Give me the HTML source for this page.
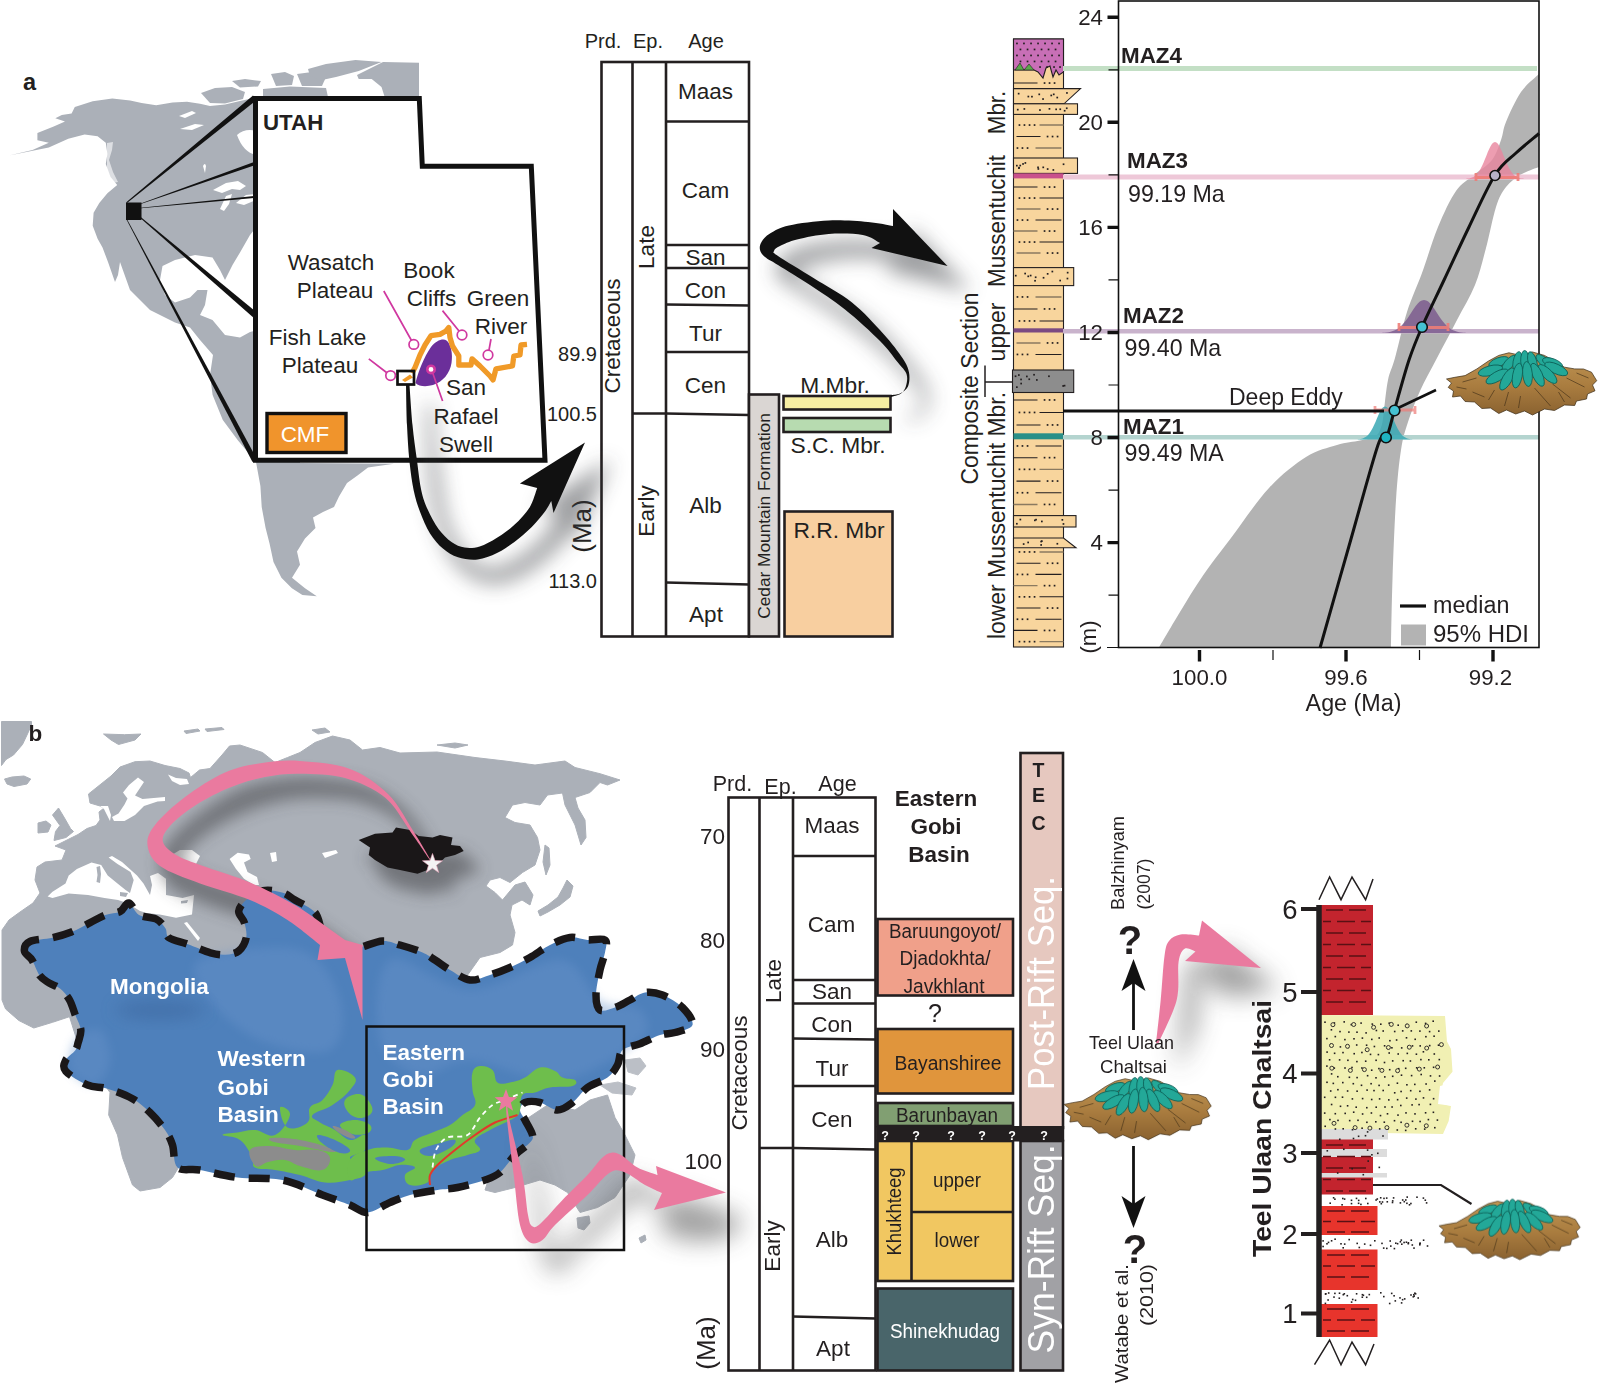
<!DOCTYPE html>
<html><head><meta charset="utf-8"><title>Figure</title>
<style>
html,body{margin:0;padding:0;background:#fff;}
svg{display:block}
text{font-family:"Liberation Sans",sans-serif;fill:#231f20}
.b{font-weight:bold}
.m{text-anchor:middle}
.e{text-anchor:end}
.w,.w text{fill:#fff}
</style></head><body>
<svg width="1600" height="1383" viewBox="0 0 1600 1383">
<defs>
<filter id="blur8" x="-50%" y="-50%" width="200%" height="200%"><feGaussianBlur stdDeviation="8"/></filter>
<filter id="blur10" x="-50%" y="-50%" width="200%" height="200%"><feGaussianBlur stdDeviation="10"/></filter>
<filter id="blur12" x="-50%" y="-50%" width="200%" height="200%"><feGaussianBlur stdDeviation="12"/></filter>
<filter id="blur5" x="-50%" y="-50%" width="200%" height="200%"><feGaussianBlur stdDeviation="5"/></filter>
</defs>
<rect x="0" y="0" width="1600" height="1383" fill="#ffffff"/>

<!-- panel a map -->
<g fill="#abb0b8">
<!-- North America west of the Utah box -->
<path d="M291.9 588.3L281.4 577.8L273.5 562L269.6 543.7L265.6 528L261.7 507L260.4 486L256 462L238 440.5L222.8 420L212.6 395L210 375L213 355L200 340L190 327.5L175 322.5L150 310L130 290L120 262L118 275L115 282L108 262L102.5 247.5L97.6 238.7L92.7 225.7L93.6 212.7L99.3 203L107.4 193.2L117.2 185L110.6 177L105.8 164L107.4 154L105.8 142.7L97.6 136.2L84.6 134.6L68.3 138.7L48.8 147.6L9 155.4L32.5 150L48.8 142.7L37.4 140.3L37.4 133L53.7 126.5L65 121.6L55.3 118.3L61.8 115L71.6 113.5L74.8 107L92.7 101.3L112.3 98.5L130.2 100.4L141.6 102.9L156.2 105.3L172.5 102.4L187 101.7L200 103.7L210 106L225 104.5L240 101L258 97L300 97L300 110L300 225L258 225L250 235L240 252.5L232.5 265L225 280L220 270L212.5 257.5L195 255L175 260L162.5 266L160 280L165 295L175 302.5L190 297.5L197.5 290L207.5 290L205 305L200 315L212.5 320L225 335L240 337.5L250 332L258 330L300 330L300 463L394 463.7L368 467.6L357.5 475.5L347 483L339 496.5L334 507L323 512L313 517.5L315.5 528L305 538.5L297 551.6L300 564.7L292 577.8L305 588.3L316.8 596.2L302.4 595Z"/>
<path d="M201 93L215 88L232 87L245 92L243 99L225 103.5L210 103Z"/>
<path d="M232 81L245 79L261 81L258 86.500L240 87.500Z"/>
<path d="M263 89L290 86.500L326 88L328 97L263 97Z"/>
<path d="M271 74L285 72L294 76L292 85L276 86Z"/>
<path d="M297 74L312 72L326 77L322 86L302 86Z"/>
<path d="M308 69L326 64L355.500 60L381.500 62L358.700 71L336 77L319.700 80.600L310 75.700Z"/>
<path d="M357 75L383 62L419 62.700L419 97L384.700 97L381.500 87L371.700 79L358.700 79Z"/>
</g>
<!-- lakes / bays -->
<g fill="#fff">
<path d="M237 135Q245 128 256 131V155Q243 152 237 135Z"/>
<path d="M213 190L226 183L238 181L246 186L240 190L232 189L222 193Z"/>
<path d="M220 209L226 196L232 194L229 204L224 211Z"/>
<path d="M236 203L246 195L256 194V200L244 205Z"/>
<path d="M179 116L192 111L196 113L185 118Z"/>
<path d="M180 129L195 124L204 125L192 130Z"/>
<path d="M203 166Q205 162 206 166L205 173Z"/>
<path d="M107 143L113 142L112 150L109 160L113 172L118 182L113 183L107 170Z" opacity="0.6"/>
</g>
<!-- fan lines -->
<g fill="#111">
<path d="M127 203L126.300 202.300L253 95.500L256 100.500Z"/>
<path d="M140 204.300L140 203.700L254 162V165.500Z"/>
<path d="M141 208.200L141 207.800L254 196V198Z"/>
<path d="M140 217.800L141 217.200L255 311V319Z"/>
<path d="M126.700 220L127.300 219.700L256.500 458.500L252.500 462Z"/>
<rect x="126" y="202.500" width="15.500" height="17.500"/>
</g>
<!-- Utah -->
<path d="M255.500 98.500H419.300L422.300 166.300H531.300L545 460.300H255.500Z" fill="#fff" stroke="#111" stroke-width="5" stroke-linejoin="miter"/>
<text x="23" y="90" font-size="23.5" class="b">a</text>
<text x="263" y="129.500" font-size="22.300" class="b">UTAH</text>
<rect x="267" y="413.500" width="79" height="39" fill="#f0942c" stroke="#111" stroke-width="3.400"/>
<text x="305" y="441.500" font-size="22.500" class="m w">CMF</text>
<g font-size="22.500" class="m">
<text x="331" y="270">Wasatch</text>
<text x="335" y="298">Plateau</text>
<text x="429" y="277.500">Book</text>
<text x="431.500" y="305.500">Cliffs</text>
<text x="498" y="305.500">Green</text>
<text x="501" y="333.500">River</text>
<text x="317.500" y="344.500">Fish Lake</text>
<text x="320" y="373">Plateau</text>
<text x="466" y="395">San</text>
<text x="466" y="424">Rafael</text>
<text x="466" y="451.500">Swell</text>
</g>
<!-- CMF outcrop -->
<path d="M415.500 383C418 372 424 357 431 347C436 340.500 443 338 446.500 340.500C451 344 453 354 451.500 363C450 373 443 382 433 385C426 387 419 386.500 415.500 383Z" fill="#6b2f9a"/>
<path d="M412 373L415 367.500L420 355L425 345L431 335.600L440 334.400L446 331L448.800 327.500L450 337.500L452.500 346L458.800 356L458.800 365L471 365L472 358.800L480 366L490 376L493 380L496 368.800L512.500 366L513.800 356L520 355L521 345L527 344.400" fill="none" stroke="#f09a28" stroke-width="5.300" stroke-linejoin="round"/>
<path d="M402 380L410 374.500L413 377.500L405 382Z" fill="#f09a28"/>
<rect x="397.500" y="371" width="16.500" height="13.500" fill="none" stroke="#111" stroke-width="2.700"/>
<g fill="none" stroke="#d038a0" stroke-width="1.700">
<path d="M383.800 291L411.500 340.500M442.500 310.600L459 331M491 339L489 350M368.800 358.800L386.500 372.500M432 371L442.600 401"/>
<circle cx="413.800" cy="344.400" r="4.800"/>
<circle cx="462" cy="335" r="4.800"/>
<circle cx="488" cy="355" r="4.800"/>
<circle cx="390.600" cy="375.600" r="4.800"/>
<circle cx="431" cy="369.400" r="3.700" fill="#fff" stroke-width="2.600"/>
</g>

<!-- panel a time scale -->
<g fill="none" stroke="#231f20" stroke-width="2.6">
<rect x="601.5" y="62" width="147.5" height="574.5" fill="#fff"/>
<path d="M632.5 62V636.5M666 62V636.5"/>
<path d="M666 121.5H749M666 245H749M666 268H749M666 304.5L749 305.5M666 352H749M632.5 413.5H666L749 415M666 582.5L749 584.5"/>
<rect x="749" y="394.5" width="30" height="242" fill="#dad6d3"/>
<rect x="783.5" y="396" width="107" height="13.5" fill="#f6eea3"/>
<rect x="783.5" y="418" width="107" height="14" fill="#b7dbb0"/>
<rect x="784.5" y="511.5" width="108" height="125" fill="#f8cfa0"/>
</g>
<g font-size="20">
<text x="603" y="48" class="m">Prd.</text>
<text x="648" y="48" class="m">Ep.</text>
<text x="706" y="48" class="m">Age</text>
</g>
<g font-size="22.5" class="m">
<text x="705.5" y="98.500">Maas</text>
<text x="705.5" y="197.5">Cam</text>
<text x="705.5" y="264.5">San</text>
<text x="705.5" y="297.5">Con</text>
<text x="705.5" y="340.5">Tur</text>
<text x="705.5" y="392.5">Cen</text>
<text x="705.5" y="513">Alb</text>
<text x="706" y="622">Apt</text>
<text transform="translate(619.5,336) rotate(-90)">Cretaceous</text>
<text transform="translate(653.5,247) rotate(-90)">Late</text>
<text transform="translate(653.5,511) rotate(-90)">Early</text>
<text transform="translate(590.5,526) rotate(-90)" font-size="26">(Ma)</text>
<text x="835" y="393" font-size="22.8">M.Mbr.</text>
<text x="838" y="453" font-size="22.8">S.C. Mbr.</text>
<text x="839" y="538" font-size="22.8">R.R. Mbr</text>
<text transform="translate(769.5,516) rotate(-90)" font-size="17.3">Cedar Mountain Formation</text>
</g>
<g font-size="20" class="e">
<text x="597" y="360.5">89.9</text>
<text x="597" y="420.5">100.5</text>
<text x="597" y="587.5">113.0</text>
</g>

<!-- panel a column -->
<g stroke="#231f20" stroke-width="1.1">
<rect x="1013.5" y="39" width="50" height="608" fill="#f8d59d"/>
<path d="M1013.5 39H1063.5V72L1059 75L1056 70L1053 77L1050 66L1046 68L1043 78L1038 72L1034 70H1013.5Z" fill="#c86fb6"/>
<path d="M1015 70L1020 63L1024 70L1029 64L1034 70Z" fill="#5aa84a" stroke-width="0.6"/>
<path d="M1013.5 88.6H1080.5L1064 103.8H1013.5Z" fill="#f8d59d"/>
<rect x="1013.5" y="103.8" width="64" height="10.6" fill="#f8d59d"/>
<rect x="1013.5" y="158" width="64" height="15.4" fill="#f8d59d"/>
<rect x="1013.5" y="173.4" width="50" height="5" fill="#c9518c" stroke="none"/>
<rect x="1013.5" y="267.6" width="60.2" height="18" fill="#f8d59d"/>
<rect x="1013.5" y="328.3" width="50" height="4.2" fill="#7b4a82" stroke="none"/>
<rect x="1012.5" y="370" width="61.2" height="22.5" fill="#8d8d8d"/>
<rect x="1013.5" y="433.3" width="50" height="6" fill="#2a8f88" stroke="none"/>
<rect x="1013.5" y="515.6" width="62.5" height="11.4" fill="#f8d59d"/>
<path d="M1013.5 538H1063.5L1076 547.7H1013.5Z" fill="#f8d59d"/>
</g>
<path d="M1013.5 83.0H1037.5M1016.5 136.5H1040.5M1013.5 187.0H1037.5M1039.5 198.0H1063.5M1035.5 220.0H1061.5M1039.5 242.0H1063.5M1013.5 309.0H1037.5M1039.5 321.0H1063.5M1035.5 354.5H1061.5M1013.5 400.0H1037.5M1039.5 412.5H1063.5M1016.5 425.0H1040.5M1035.5 446.0H1061.5M1013.5 457.7H1037.5M1016.5 481.1H1040.5M1035.5 492.8H1061.5M1016.5 563.2H1040.5M1035.5 574.4H1061.5M1039.5 596.8H1063.5M1016.5 608.0H1040.5M1035.5 619.2H1061.5M1013.5 630.4H1037.5" stroke="#231f20" stroke-width="1.1" fill="none"/>
<path d="M1039.5 125.0H1063.5M1035.5 148.0H1061.5M1016.5 209.0H1040.5M1013.5 231.0H1037.5M1016.5 253.0H1040.5M1035.5 297.0H1061.5M1016.5 343.0H1040.5M1039.5 469.4H1063.5M1013.5 504.5H1037.5M1039.5 552.0H1063.5M1013.5 585.6H1037.5M1039.5 641.6H1063.5" stroke="#8a7a60" stroke-width="1.3" fill="none"/>
<g fill="#231f20"><rect x="1043.7" y="82.2" width="1.700" height="1.700"/><rect x="1048.7" y="82.2" width="1.700" height="1.700"/><rect x="1053.7" y="82.2" width="1.700" height="1.700"/><rect x="1018.6" y="124.2" width="1.700" height="1.700"/><rect x="1023.6" y="124.2" width="1.700" height="1.700"/><rect x="1028.7" y="124.2" width="1.700" height="1.700"/><rect x="1033.7" y="124.2" width="1.700" height="1.700"/><rect x="1046.7" y="135.7" width="1.700" height="1.700"/><rect x="1051.7" y="135.7" width="1.700" height="1.700"/><rect x="1056.7" y="135.7" width="1.700" height="1.700"/><rect x="1016.6" y="147.2" width="1.700" height="1.700"/><rect x="1021.6" y="147.2" width="1.700" height="1.700"/><rect x="1026.7" y="147.2" width="1.700" height="1.700"/><rect x="1043.7" y="186.2" width="1.700" height="1.700"/><rect x="1048.7" y="186.2" width="1.700" height="1.700"/><rect x="1053.7" y="186.2" width="1.700" height="1.700"/><rect x="1018.6" y="197.2" width="1.700" height="1.700"/><rect x="1023.6" y="197.2" width="1.700" height="1.700"/><rect x="1028.7" y="197.2" width="1.700" height="1.700"/><rect x="1033.7" y="197.2" width="1.700" height="1.700"/><rect x="1046.7" y="208.2" width="1.700" height="1.700"/><rect x="1051.7" y="208.2" width="1.700" height="1.700"/><rect x="1056.7" y="208.2" width="1.700" height="1.700"/><rect x="1016.6" y="219.2" width="1.700" height="1.700"/><rect x="1021.6" y="219.2" width="1.700" height="1.700"/><rect x="1026.7" y="219.2" width="1.700" height="1.700"/><rect x="1043.7" y="230.2" width="1.700" height="1.700"/><rect x="1048.7" y="230.2" width="1.700" height="1.700"/><rect x="1053.7" y="230.2" width="1.700" height="1.700"/><rect x="1018.6" y="241.2" width="1.700" height="1.700"/><rect x="1023.6" y="241.2" width="1.700" height="1.700"/><rect x="1028.7" y="241.2" width="1.700" height="1.700"/><rect x="1033.7" y="241.2" width="1.700" height="1.700"/><rect x="1046.7" y="252.2" width="1.700" height="1.700"/><rect x="1051.7" y="252.2" width="1.700" height="1.700"/><rect x="1056.7" y="252.2" width="1.700" height="1.700"/><rect x="1016.6" y="296.1" width="1.700" height="1.700"/><rect x="1021.6" y="296.1" width="1.700" height="1.700"/><rect x="1026.7" y="296.1" width="1.700" height="1.700"/><rect x="1043.7" y="308.1" width="1.700" height="1.700"/><rect x="1048.7" y="308.1" width="1.700" height="1.700"/><rect x="1053.7" y="308.1" width="1.700" height="1.700"/><rect x="1018.6" y="320.1" width="1.700" height="1.700"/><rect x="1023.6" y="320.1" width="1.700" height="1.700"/><rect x="1028.7" y="320.1" width="1.700" height="1.700"/><rect x="1033.7" y="320.1" width="1.700" height="1.700"/><rect x="1046.7" y="342.1" width="1.700" height="1.700"/><rect x="1051.7" y="342.1" width="1.700" height="1.700"/><rect x="1056.7" y="342.1" width="1.700" height="1.700"/><rect x="1016.6" y="353.6" width="1.700" height="1.700"/><rect x="1021.6" y="353.6" width="1.700" height="1.700"/><rect x="1026.7" y="353.6" width="1.700" height="1.700"/><rect x="1043.7" y="399.1" width="1.700" height="1.700"/><rect x="1048.7" y="399.1" width="1.700" height="1.700"/><rect x="1053.7" y="399.1" width="1.700" height="1.700"/><rect x="1018.6" y="411.6" width="1.700" height="1.700"/><rect x="1023.6" y="411.6" width="1.700" height="1.700"/><rect x="1028.7" y="411.6" width="1.700" height="1.700"/><rect x="1033.7" y="411.6" width="1.700" height="1.700"/><rect x="1046.7" y="424.1" width="1.700" height="1.700"/><rect x="1051.7" y="424.1" width="1.700" height="1.700"/><rect x="1056.7" y="424.1" width="1.700" height="1.700"/><rect x="1016.6" y="445.1" width="1.700" height="1.700"/><rect x="1021.6" y="445.1" width="1.700" height="1.700"/><rect x="1026.7" y="445.1" width="1.700" height="1.700"/><rect x="1043.7" y="456.8" width="1.700" height="1.700"/><rect x="1048.7" y="456.8" width="1.700" height="1.700"/><rect x="1053.7" y="456.8" width="1.700" height="1.700"/><rect x="1018.6" y="468.5" width="1.700" height="1.700"/><rect x="1023.6" y="468.5" width="1.700" height="1.700"/><rect x="1028.7" y="468.5" width="1.700" height="1.700"/><rect x="1033.7" y="468.5" width="1.700" height="1.700"/><rect x="1046.7" y="480.2" width="1.700" height="1.700"/><rect x="1051.7" y="480.2" width="1.700" height="1.700"/><rect x="1056.7" y="480.2" width="1.700" height="1.700"/><rect x="1016.6" y="491.9" width="1.700" height="1.700"/><rect x="1021.6" y="491.9" width="1.700" height="1.700"/><rect x="1026.7" y="491.9" width="1.700" height="1.700"/><rect x="1043.7" y="503.6" width="1.700" height="1.700"/><rect x="1048.7" y="503.6" width="1.700" height="1.700"/><rect x="1053.7" y="503.6" width="1.700" height="1.700"/><rect x="1018.6" y="551.1" width="1.700" height="1.700"/><rect x="1023.6" y="551.1" width="1.700" height="1.700"/><rect x="1028.7" y="551.1" width="1.700" height="1.700"/><rect x="1033.7" y="551.1" width="1.700" height="1.700"/><rect x="1046.7" y="562.4" width="1.700" height="1.700"/><rect x="1051.7" y="562.4" width="1.700" height="1.700"/><rect x="1056.7" y="562.4" width="1.700" height="1.700"/><rect x="1016.6" y="573.6" width="1.700" height="1.700"/><rect x="1021.6" y="573.6" width="1.700" height="1.700"/><rect x="1026.7" y="573.6" width="1.700" height="1.700"/><rect x="1043.7" y="584.8" width="1.700" height="1.700"/><rect x="1048.7" y="584.8" width="1.700" height="1.700"/><rect x="1053.7" y="584.8" width="1.700" height="1.700"/><rect x="1018.6" y="596.0" width="1.700" height="1.700"/><rect x="1023.6" y="596.0" width="1.700" height="1.700"/><rect x="1028.7" y="596.0" width="1.700" height="1.700"/><rect x="1033.7" y="596.0" width="1.700" height="1.700"/><rect x="1046.7" y="607.2" width="1.700" height="1.700"/><rect x="1051.7" y="607.2" width="1.700" height="1.700"/><rect x="1056.7" y="607.2" width="1.700" height="1.700"/><rect x="1016.6" y="618.4" width="1.700" height="1.700"/><rect x="1021.6" y="618.4" width="1.700" height="1.700"/><rect x="1026.7" y="618.4" width="1.700" height="1.700"/><rect x="1043.7" y="629.6" width="1.700" height="1.700"/><rect x="1048.7" y="629.6" width="1.700" height="1.700"/><rect x="1053.7" y="629.6" width="1.700" height="1.700"/><rect x="1018.6" y="640.8" width="1.700" height="1.700"/><rect x="1023.6" y="640.8" width="1.700" height="1.700"/><rect x="1028.7" y="640.8" width="1.700" height="1.700"/><rect x="1033.7" y="640.8" width="1.700" height="1.700"/><rect x="1016.1" y="42.6" width="1.700" height="1.700"/><rect x="1023.1" y="42.6" width="1.700" height="1.700"/><rect x="1030.2" y="42.6" width="1.700" height="1.700"/><rect x="1037.2" y="42.6" width="1.700" height="1.700"/><rect x="1044.2" y="42.6" width="1.700" height="1.700"/><rect x="1051.2" y="42.6" width="1.700" height="1.700"/><rect x="1058.2" y="42.6" width="1.700" height="1.700"/><rect x="1019.6" y="48.6" width="1.700" height="1.700"/><rect x="1026.7" y="48.6" width="1.700" height="1.700"/><rect x="1033.7" y="48.6" width="1.700" height="1.700"/><rect x="1040.7" y="48.6" width="1.700" height="1.700"/><rect x="1047.7" y="48.6" width="1.700" height="1.700"/><rect x="1054.7" y="48.6" width="1.700" height="1.700"/><rect x="1016.1" y="54.6" width="1.700" height="1.700"/><rect x="1023.1" y="54.6" width="1.700" height="1.700"/><rect x="1030.2" y="54.6" width="1.700" height="1.700"/><rect x="1037.2" y="54.6" width="1.700" height="1.700"/><rect x="1044.2" y="54.6" width="1.700" height="1.700"/><rect x="1051.2" y="54.6" width="1.700" height="1.700"/><rect x="1058.2" y="54.6" width="1.700" height="1.700"/><rect x="1019.6" y="60.6" width="1.700" height="1.700"/><rect x="1026.7" y="60.6" width="1.700" height="1.700"/><rect x="1033.7" y="60.6" width="1.700" height="1.700"/><rect x="1040.7" y="60.6" width="1.700" height="1.700"/><rect x="1047.7" y="60.6" width="1.700" height="1.700"/><rect x="1054.7" y="60.6" width="1.700" height="1.700"/><rect x="1039.2" y="66.2" width="1.700" height="1.700"/><rect x="1046.2" y="66.2" width="1.700" height="1.700"/><rect x="1053.2" y="66.2" width="1.700" height="1.700"/><rect x="1059.2" y="66.2" width="1.700" height="1.700"/><rect x="1017.8" y="92.8" width="1.700" height="1.700"/><rect x="1050.4" y="94.6" width="1.700" height="1.700"/><rect x="1031.1" y="95.8" width="1.700" height="1.700"/><rect x="1038.4" y="93.5" width="1.700" height="1.700"/><rect x="1056.4" y="96.7" width="1.700" height="1.700"/><rect x="1027.5" y="95.7" width="1.700" height="1.700"/><rect x="1042.2" y="98.2" width="1.700" height="1.700"/><rect x="1052.9" y="93.5" width="1.700" height="1.700"/><rect x="1066.1" y="92.1" width="1.700" height="1.700"/><rect x="1039.1" y="109.2" width="1.700" height="1.700"/><rect x="1023.5" y="108.1" width="1.700" height="1.700"/><rect x="1016.9" y="108.8" width="1.700" height="1.700"/><rect x="1059.4" y="108.4" width="1.700" height="1.700"/><rect x="1065.9" y="107.4" width="1.700" height="1.700"/><rect x="1055.3" y="108.5" width="1.700" height="1.700"/><rect x="1048.6" y="108.0" width="1.700" height="1.700"/><rect x="1063.8" y="109.9" width="1.700" height="1.700"/><rect x="1042.4" y="166.5" width="1.700" height="1.700"/><rect x="1018.2" y="166.8" width="1.700" height="1.700"/><rect x="1052.5" y="169.1" width="1.700" height="1.700"/><rect x="1062.7" y="163.4" width="1.700" height="1.700"/><rect x="1037.2" y="166.5" width="1.700" height="1.700"/><rect x="1016.0" y="164.8" width="1.700" height="1.700"/><rect x="1024.5" y="162.1" width="1.700" height="1.700"/><rect x="1018.1" y="167.3" width="1.700" height="1.700"/><rect x="1022.2" y="163.1" width="1.700" height="1.700"/><rect x="1037.5" y="168.1" width="1.700" height="1.700"/><rect x="1019.4" y="164.7" width="1.700" height="1.700"/><rect x="1046.8" y="168.2" width="1.700" height="1.700"/><rect x="1059.3" y="279.7" width="1.700" height="1.700"/><rect x="1029.8" y="274.7" width="1.700" height="1.700"/><rect x="1034.2" y="279.9" width="1.700" height="1.700"/><rect x="1066.8" y="271.8" width="1.700" height="1.700"/><rect x="1024.3" y="272.7" width="1.700" height="1.700"/><rect x="1027.4" y="275.5" width="1.700" height="1.700"/><rect x="1046.8" y="273.0" width="1.700" height="1.700"/><rect x="1014.9" y="274.8" width="1.700" height="1.700"/><rect x="1034.8" y="276.4" width="1.700" height="1.700"/><rect x="1066.6" y="277.7" width="1.700" height="1.700"/><rect x="1042.7" y="276.9" width="1.700" height="1.700"/><rect x="1051.5" y="270.7" width="1.700" height="1.700"/><rect x="1063.7" y="384.8" width="1.700" height="1.700"/><rect x="1062.3" y="385.1" width="1.700" height="1.700"/><rect x="1036.0" y="379.1" width="1.700" height="1.700"/><rect x="1020.3" y="382.7" width="1.700" height="1.700"/><rect x="1018.0" y="374.2" width="1.700" height="1.700"/><rect x="1026.0" y="375.6" width="1.700" height="1.700"/><rect x="1033.2" y="373.9" width="1.700" height="1.700"/><rect x="1014.7" y="375.4" width="1.700" height="1.700"/><rect x="1020.2" y="378.6" width="1.700" height="1.700"/><rect x="1016.0" y="386.3" width="1.700" height="1.700"/><rect x="1048.1" y="375.4" width="1.700" height="1.700"/><rect x="1028.4" y="378.4" width="1.700" height="1.700"/><rect x="1035.2" y="518.8" width="1.700" height="1.700"/><rect x="1062.6" y="523.1" width="1.700" height="1.700"/><rect x="1041.0" y="520.6" width="1.700" height="1.700"/><rect x="1019.5" y="518.7" width="1.700" height="1.700"/><rect x="1034.0" y="519.5" width="1.700" height="1.700"/><rect x="1061.5" y="519.0" width="1.700" height="1.700"/><rect x="1016.0" y="522.9" width="1.700" height="1.700"/><rect x="1040.3" y="540.7" width="1.700" height="1.700"/><rect x="1041.0" y="540.3" width="1.700" height="1.700"/><rect x="1040.3" y="544.1" width="1.700" height="1.700"/><rect x="1056.5" y="542.9" width="1.700" height="1.700"/><rect x="1027.3" y="541.6" width="1.700" height="1.700"/><rect x="1022.8" y="543.2" width="1.700" height="1.700"/></g>
<path d="M985 365.5V397M985 382H1012" stroke="#231f20" stroke-width="1.5" fill="none"/>
<g font-size="23" class="m">
<text transform="translate(977.5,388.500) rotate(-90)" textLength="192" lengthAdjust="spacingAndGlyphs">Composite Section</text>
<text transform="translate(1005,515.500) rotate(-90)" textLength="247" lengthAdjust="spacingAndGlyphs">lower Mussentuchit Mbr.</text>
<text transform="translate(1005,332) rotate(-90)">upper</text>
<text transform="translate(1005,221) rotate(-90)" textLength="132" lengthAdjust="spacingAndGlyphs">Mussentuchit</text>
<text transform="translate(1005,112.500) rotate(-90)" textLength="43.500" lengthAdjust="spacingAndGlyphs">Mbr.</text>
</g>
<!-- panel a chart -->
<g>
<path d="M1159.0 647.5C1162.5 641.6 1172.7 624.0 1180.0 612.0C1187.3 600.0 1194.5 587.8 1203.0 575.5C1211.5 563.2 1220.0 552.6 1231.0 538.0C1242.0 523.4 1256.5 501.5 1269.0 488.0C1281.5 474.5 1294.7 464.2 1306.0 457.0C1317.3 449.8 1328.0 447.8 1337.0 445.0C1346.0 442.2 1353.5 442.0 1360.0 440.5C1366.5 439.0 1372.3 438.8 1376.0 436.0C1379.7 433.2 1380.7 428.3 1382.0 424.0C1383.3 419.7 1383.0 417.3 1384.0 410.0C1385.0 402.7 1386.2 388.7 1388.0 380.0C1389.8 371.3 1391.8 369.3 1395.0 358.0C1398.2 346.7 1402.5 326.2 1407.0 312.0C1411.5 297.8 1416.8 287.2 1422.0 273.0C1427.2 258.8 1432.3 240.7 1438.0 227.0C1443.7 213.3 1450.0 199.7 1456.0 191.0C1462.0 182.3 1468.0 180.2 1474.0 175.0C1480.0 169.8 1487.5 165.8 1492.0 160.0C1496.5 154.2 1498.7 146.3 1501.0 140.0C1503.3 133.7 1502.7 130.0 1506.0 122.0C1509.3 114.0 1515.5 100.0 1521.0 92.0C1526.5 84.0 1536.0 77.0 1539.0 74.0 L1539.0 167.0C1536.0 168.2 1526.5 171.2 1521.0 174.5C1515.5 177.8 1510.2 181.6 1506.0 187.0C1501.8 192.4 1499.3 196.8 1496.0 207.0C1492.7 217.2 1489.5 235.0 1486.0 248.0C1482.5 261.0 1479.8 273.0 1475.0 285.0C1470.2 297.0 1463.3 307.8 1457.0 320.0C1450.7 332.2 1443.2 346.2 1437.0 358.0C1430.8 369.8 1424.8 380.3 1420.0 391.0C1415.2 401.7 1411.2 412.2 1408.0 422.0C1404.8 431.8 1403.0 437.0 1401.0 450.0C1399.0 463.0 1397.4 478.5 1396.0 500.0C1394.6 521.5 1393.3 554.4 1392.5 579.0C1391.7 603.6 1391.2 636.1 1391.0 647.5 Z" fill="#b3b3b3"/>
<rect x="1063" y="66" width="474" height="5" fill="#c3dfc5"/>
<rect x="1063" y="174.5" width="476" height="5" fill="#eec8d8"/>
<rect x="1063" y="329" width="476" height="4.500" fill="#c9b3cc"/>
<rect x="1063" y="435" width="476" height="4.500" fill="#b4d4cf"/>
<path d="M1466.2 179.0L1466.2 178.8L1467.6 178.6L1469.1 178.4L1470.5 178.1L1472.0 177.6L1473.4 176.9L1474.8 176.0L1476.3 174.7L1477.7 173.1L1479.2 171.1L1480.6 168.7L1482.0 165.9L1483.5 162.7L1484.9 159.2L1486.4 155.7L1487.8 152.1L1489.2 148.9L1490.7 146.0L1492.1 143.8L1493.6 142.5L1495.0 142.0L1496.4 142.5L1497.9 143.8L1499.3 146.0L1500.8 148.9L1502.2 152.1L1503.6 155.7L1505.1 159.2L1506.5 162.7L1508.0 165.9L1509.4 168.7L1510.8 171.1L1512.3 173.1L1513.7 174.7L1515.2 176.0L1516.6 176.9L1518.0 177.6L1519.5 178.1L1520.9 178.4L1522.4 178.6L1523.8 178.8L1523.8 179.0 Z" fill="#e8849e" fill-opacity="0.8"/>
<path d="M1382.4 333.0L1382.4 332.8L1384.5 332.7L1386.6 332.5L1388.6 332.2L1390.7 331.8L1392.8 331.1L1394.9 330.3L1397.0 329.2L1399.0 327.8L1401.1 326.0L1403.2 323.8L1405.3 321.3L1407.4 318.5L1409.4 315.4L1411.5 312.2L1413.6 309.0L1415.7 306.1L1417.8 303.6L1419.8 301.6L1421.9 300.4L1424.0 300.0L1426.1 300.4L1428.2 301.6L1430.2 303.6L1432.3 306.1L1434.4 309.0L1436.5 312.2L1438.6 315.4L1440.6 318.5L1442.7 321.3L1444.8 323.8L1446.9 326.0L1449.0 327.8L1451.0 329.2L1453.1 330.3L1455.2 331.1L1457.3 331.8L1459.4 332.2L1461.4 332.5L1463.5 332.7L1465.6 332.8L1465.6 333.0 Z" fill="#7d5c8e" fill-opacity="0.85"/>
<path d="M1357.8 439.5L1357.8 439.3L1359.2 439.2L1360.5 439.0L1361.9 438.7L1363.2 438.3L1364.6 437.6L1366.0 436.8L1367.3 435.7L1368.7 434.3L1370.0 432.5L1371.4 430.3L1372.8 427.8L1374.1 425.0L1375.5 421.9L1376.8 418.7L1378.2 415.5L1379.6 412.6L1380.9 410.1L1382.3 408.1L1383.6 406.9L1385.0 406.5L1386.4 406.9L1387.7 408.1L1389.1 410.1L1390.4 412.6L1391.8 415.5L1393.2 418.7L1394.5 421.9L1395.9 425.0L1397.2 427.8L1398.6 430.3L1400.0 432.5L1401.3 434.3L1402.7 435.7L1404.0 436.8L1405.4 437.6L1406.8 438.3L1408.1 438.7L1409.5 439.0L1410.8 439.2L1412.2 439.3L1412.2 439.5 Z" fill="#38a8b4" fill-opacity="0.85"/>
<g stroke="#ee7d78" stroke-width="2.8" fill="none" opacity="0.9">
<path d="M1476 177.5H1518M1476 173v8M1518 173v8"/>
<path d="M1399 327.500H1448M1399 323v8M1448 323v8"/>
<path d="M1375 410H1415M1375 406v8M1415 406v8" opacity="0.8"/>
</g>
<path d="M1063 411H1384" stroke="#111" stroke-width="3.2" fill="none"/>
<path d="M1398 408L1436 390" stroke="#111" stroke-width="2.6" fill="none"/>
<path d="M1320.0 648.0C1324.8 631.0 1339.3 579.8 1349.0 546.0C1358.7 512.2 1371.8 463.1 1378.0 445.0C1384.2 426.9 1383.8 443.3 1386.5 437.5C1389.2 431.7 1390.8 422.9 1394.5 410.0C1398.2 397.1 1404.4 373.8 1409.0 360.0C1413.6 346.2 1416.0 340.7 1422.0 327.0C1428.0 313.3 1437.2 294.7 1445.0 278.0C1452.8 261.3 1460.7 244.2 1469.0 227.0C1477.3 209.8 1487.2 187.3 1495.0 175.0C1502.8 162.7 1508.7 159.9 1516.0 153.0C1523.3 146.1 1535.2 136.8 1539.0 133.5" stroke="#111" stroke-width="3" fill="none"/>
<g stroke="#111" stroke-width="1.6">
<circle cx="1495" cy="175.500" r="5" fill="#b9b1c9"/>
<circle cx="1422" cy="327" r="5.300" fill="#45c1d2"/>
<circle cx="1394.500" cy="410.500" r="5.300" fill="#45c1d2"/>
<circle cx="1386" cy="437.500" r="5.300" fill="#1fb3c1"/>
</g>
<rect x="1118.500" y="1" width="420.500" height="646.500" fill="none" stroke="#111" stroke-width="1.6"/>
<path d="M1107.5 542.6H1118.500M1107.5 437.5H1118.500M1107.5 332.5H1118.500M1107.5 227.4H1118.500M1107.5 122.3H1118.500M1107.5 17.2H1118.500" stroke="#111" stroke-width="3.400"/>
<path d="M1108.5 595.2H1118.500M1108.5 490.1H1118.500M1108.5 385.0H1118.500M1108.5 279.9H1118.500M1108.5 174.8H1118.500M1108.5 69.8H1118.500M1107 647.5H1118.500" stroke="#111" stroke-width="1.200"/>
<path d="M1199.500 650V661.500M1346 650V661.500M1493 650V661.500" stroke="#111" stroke-width="3.400"/>
<path d="M1273 650V660M1419.500 650V660" stroke="#111" stroke-width="1.200"/>
<g font-size="22.300" class="e">
<text x="1103" y="550.4">4</text>
<text x="1103" y="445.3">8</text>
<text x="1103" y="340.3">12</text>
<text x="1103" y="235.2">16</text>
<text x="1103" y="130.1">20</text>
<text x="1103" y="25.0">24</text>
</g>
<g font-size="22.300" class="m">
<text x="1199.500" y="685">100.0</text><text x="1346" y="685">99.6</text><text x="1490.500" y="685">99.2</text>
<text x="1353.500" y="711" font-size="23.300">Age (Ma)</text>
<text transform="translate(1095.500,637) rotate(-90)" font-size="22">(m)</text>
</g>
<g font-size="22.400" class="b">
<text x="1121" y="62.500">MAZ4</text><text x="1127" y="168">MAZ3</text><text x="1123" y="323">MAZ2</text><text x="1123" y="433.500">MAZ1</text>
</g>
<g font-size="23.200">
<text x="1128" y="201.500">99.19 Ma</text><text x="1124.500" y="355.500">99.40 Ma</text><text x="1124.500" y="461">99.49 MA</text>
<text x="1229" y="404.500" font-size="23">Deep Eddy</text>
<text x="1433" y="612.500" font-size="23.300">median</text><text x="1433" y="642" font-size="24">95% HDI</text>
</g>
<path d="M1400 606H1426" stroke="#111" stroke-width="3.200"/>
<rect x="1401" y="624.500" width="25" height="21" fill="#b3b3b3"/>
</g>
<!-- panel b map -->
<g fill="#abb0b8" stroke="#abb0b8" stroke-width="1" stroke-linejoin="round">
<path d="M1.5 721.5L31.5 721.5L31.5 725.0L27.0 735.0L22.5 744.5L13.5 755.0L6.0 759.5L1.5 765.5Z"/>
<path d="M4.5 779.0L12.0 777.0L24.0 776.0L30.7 779.0L27.0 784.0L14.0 786.5L7.0 784.0Z"/>
<path d="M58.5 808.0L64.5 818.0L70.5 828.5L73.5 831.5L66.0 837.5L54.0 840.5L55.5 831.5L60.0 825.5L52.5 815.0Z"/>
<path d="M38.0 823.0L46.0 821.0L51.0 825.0L48.0 832.0L38.0 833.0Z"/>
<path d="M103.5 734.0L124.5 734.7L141.0 734.0L135.0 740.0L118.5 744.5L111.0 740.0Z"/>
<path d="M437.0 745.0L455.0 743.0L468.0 745.0L455.0 748.0Z"/>
<path d="M312.0 730.0L325.0 728.0L330.0 732.0L318.0 734.0Z"/>
<path d="M184.0 731.0L198.0 729.0L200.0 731.0L186.0 733.5Z"/>
<path d="M205.0 729.0L222.0 727.5L224.0 729.5L207.0 731.5Z"/>
<path d="M2.0 1000.0L2.0 930.0L9.0 920.0L20.0 912.0L33.0 903.0L40.0 893.0L35.0 880.0L37.0 867.0L45.0 862.0L62.0 860.0L66.0 850.0L55.0 846.0L63.0 842.0L72.0 837.5L78.0 834.5L87.0 828.5L96.0 825.5L100.0 820.0L99.0 812.0L104.0 808.0L100.0 806.0L90.0 803.0L88.5 794.0L96.0 788.0L111.0 776.0L120.0 767.0L135.0 761.7L150.0 761.0L165.0 765.5L180.0 768.5L189.0 773.0L190.5 777.5L199.5 770.0L210.0 768.5L222.0 755.0L229.5 746.0L240.0 745.0L262.5 752.5L275.0 762.5L287.5 757.5L300.0 752.5L315.0 742.5L332.5 736.0L350.0 740.0L362.5 750.0L380.0 747.5L400.0 753.0L437.0 752.0L475.0 757.5L505.0 761.0L535.0 765.0L565.0 761.0L575.0 767.5L600.0 773.7L620.0 780.0L607.5 785.0L600.0 782.5L590.0 792.5L575.0 797.5L578.0 808.0L585.0 820.0L586.0 837.5L581.0 845.0L575.0 825.0L565.0 805.0L562.5 793.0L547.5 795.0L540.0 805.0L525.0 802.5L512.5 805.0L505.0 817.5L515.0 822.5L530.0 825.0L537.5 837.5L540.0 850.0L535.0 865.0L522.5 872.5L510.0 882.5L500.0 877.5L490.0 880.0L486.0 886.0L495.0 892.5L502.5 900.0L515.0 885.0L525.0 882.0L533.0 895.0L530.0 905.0L522.0 900.0L512.0 905.0L510.0 915.0L515.0 932.5L512.5 945.0L500.0 952.5L480.0 957.5L450.0 1000.0L300.0 1000.0L180.0 1165.0L172.5 1177.5L160.0 1187.5L140.0 1191.0L132.5 1185.0L122.5 1157.5L117.5 1135.0L108.7 1115.0L110.0 1092.5L80.0 1050.0L69.5 1016.7L52.6 1022.3L33.8 1028.0L18.8 1020.5L5.6 1009.0Z"/>
<path d="M567.0 880.0L573.0 886.0L570.0 897.0L560.0 905.0L548.0 912.0L540.0 916.0L538.0 911.0L548.0 905.0L558.0 897.0L563.0 888.0Z"/>
<path d="M545.0 845.0L549.0 848.0L550.0 865.0L546.0 875.0L543.0 862.0Z"/>
<path d="M625.0 1060.0L640.0 1058.0L646.0 1066.0L638.0 1075.0L628.0 1072.0Z" opacity="0.8"/>
<path d="M600.0 1085.0L618.0 1082.0L636.0 1088.0L632.0 1095.0L612.0 1093.0Z" opacity="0.8"/>
<path d="M525.0 1120.0L547.5 1105.0L575.0 1110.0L590.0 1100.0L607.5 1095.0L615.0 1117.5L625.0 1135.0L635.0 1155.0L630.0 1175.0L615.0 1197.5L597.5 1207.5L580.0 1212.5L567.5 1192.5L555.0 1185.0L540.0 1180.0L515.0 1187.5L495.0 1192.5L485.0 1190.0L490.0 1175.0L505.0 1160.0Z"/>
<path d="M577.0 1218.0L589.0 1216.0L590.0 1223.0L584.0 1230.0L578.0 1228.0Z"/>
<path d="M639.0 1238.0L645.0 1235.0L646.0 1240.0L641.0 1243.0Z"/>
</g>
<g fill="#fff">
<path d="M47.6 896.6L52.5 891.7L65.5 883.6L68.7 875.5L76.9 869.0L91.5 862.5L101.2 865.0L107.7 875.5L117.5 883.6L125.6 890.0L130.0 893.0L133.7 880.0L130.5 872.0L117.5 864.0L108.6 857.6L112.0 856.0L122.0 862.0L137.0 875.5L143.5 883.6L150.0 895.0L152.0 885.0L150.0 876.0L158.0 873.0L166.0 878.7L166.0 895.0L182.5 898.0L194.0 895.0L192.0 914.5L176.0 917.7L159.7 914.5L146.7 913.0L140.0 911.0L127.0 903.0L118.0 900.0L104.5 898.0L88.0 895.0L68.7 893.4L52.5 898.0Z"/>
<path d="M170.0 856.0L180.0 850.0L192.0 850.0L200.0 856.0L196.0 864.0L182.0 866.0L172.0 863.0Z"/>
<path d="M229.6 859.0L237.7 852.7L249.0 854.4L250.7 859.0L244.0 862.5L247.5 872.0L257.0 877.0L259.0 885.0L254.0 885.0L244.0 878.7L236.0 869.0Z"/>
<path d="M270.0 853.0L276.0 852.0L277.0 861.0L272.0 862.0Z"/>
<path d="M322.0 853.0L336.0 850.0L338.0 853.0L325.0 858.0Z"/>
<path d="M138.0 777.5L144.0 782.0L138.0 791.0L135.0 795.5L142.5 799.0L165.0 797.0L165.0 801.0L157.5 801.5L144.0 806.0L135.0 815.0L124.5 821.0L114.0 821.0L112.0 817.0L118.5 813.5L124.5 804.5L127.5 798.5L123.0 792.5L129.0 785.0Z"/>
<path d="M168.0 774.5L176.0 778.0L187.0 779.0L189.0 784.0L180.0 785.0L172.0 781.0Z"/>
<path d="M100.0 806.0L108.0 806.0L111.0 815.0L110.0 821.0L107.0 815.0L104.0 809.0Z"/>
<path d="M184.0 923.0L187.0 922.0L200.0 938.0L198.0 941.0Z"/>
</g>
<path d="M96.5 867.0L100.0 866.0L101.0 874.0L100.0 883.0L96.5 882.0L97.5 875.0Z" fill="#abb0b8"/>
<path d="M120.0 892.0L128.0 893.0L126.0 897.0L120.0 896.0Z" fill="#abb0b8"/>
<path d="M181.0 901.0L188.0 900.0L187.0 903.0L181.0 903.5Z" fill="#abb0b8"/>
<g filter="url(#blur8)" opacity="0.5" fill="#3a3a3e">
<path d="M432.5 863.0C429.1 857.3 419.4 840.5 412.0 829.0C404.6 817.5 398.3 804.0 388.0 794.0C377.7 784.0 364.7 774.5 350.0 769.0C335.3 763.5 314.7 762.0 300.0 761.0C285.3 760.0 274.5 761.1 262.0 763.0C249.5 764.9 237.8 766.8 225.0 772.5C212.2 778.2 196.7 788.2 185.0 797.0C173.3 805.8 161.2 817.0 155.0 825.0C148.8 833.0 146.7 838.2 147.5 845.0C148.3 851.8 151.2 859.6 160.0 866.0C168.8 872.4 185.0 877.8 200.0 883.5C215.0 889.2 235.4 893.9 250.0 900.0C264.6 906.1 275.8 912.5 287.5 920.0C299.2 927.5 314.6 940.8 320.0 945.0L317.5 960L345 958L362.5 1020L362.5 945L345 940L327.5 927.5C322.1 923.8 307.9 912.5 295.0 905.0C282.1 897.5 264.6 888.8 250.0 882.5C235.4 876.2 219.5 871.9 207.5 867.5C195.5 863.1 185.4 860.2 178.0 856.0C170.6 851.8 164.3 847.0 163.0 842.0C161.7 837.0 164.5 832.2 170.0 826.0C175.5 819.8 186.0 811.4 196.0 805.0C206.0 798.6 218.5 792.2 230.0 787.5C241.5 782.8 253.3 779.3 265.0 777.0C276.7 774.7 286.7 773.5 300.0 773.7C313.3 773.9 330.8 774.0 345.0 778.0C359.2 782.0 374.2 788.7 385.0 797.5C395.8 806.3 402.1 819.9 410.0 831.0C417.9 842.1 428.8 858.5 432.5 864.0Z" transform="translate(16,20)" stroke="#3a3a3e" stroke-width="8"/>
<path d="M358.7 840.0L375.0 833.7L392.5 832.5L396.0 827.5L410.0 830.0L418.7 836.0L432.5 837.5L440.0 835.0L452.5 837.5L451.0 845.0L460.0 846.0L463.7 851.0L455.0 855.0L445.0 857.5L437.5 865.0L427.5 870.0L417.5 873.7L400.0 870.0L387.5 867.5L375.0 860.0L368.7 855.0L370.0 847.5Z" transform="translate(12,18)" stroke="#3a3a3e" stroke-width="6" opacity="1"/>
</g>
<path d="M358.7 840.0L375.0 833.7L392.5 832.5L396.0 827.5L410.0 830.0L418.7 836.0L432.5 837.5L440.0 835.0L452.5 837.5L451.0 845.0L460.0 846.0L463.7 851.0L455.0 855.0L445.0 857.5L437.5 865.0L427.5 870.0L417.5 873.7L400.0 870.0L387.5 867.5L375.0 860.0L368.7 855.0L370.0 847.5Z" fill="#1a1718"/>
<path d="M24.4 951.0C24.1 947.9 25.3 943.7 30.0 941.5C34.7 939.3 45.7 939.3 52.6 937.7C59.5 936.1 65.1 934.5 71.4 932.0C77.7 929.5 84.6 925.5 90.2 922.7C95.8 919.9 100.3 916.9 105.3 915.0C110.3 913.1 116.4 913.4 120.3 911.4C124.2 909.4 125.7 902.4 128.8 903.0C131.9 903.6 134.5 912.3 139.0 915.0C143.5 917.7 151.6 916.8 156.0 919.0C160.4 921.2 163.2 925.2 165.4 928.3C167.6 931.4 165.2 935.0 169.0 937.7C172.8 940.4 181.1 941.8 188.0 944.3C194.9 946.8 204.2 951.1 210.5 952.8C216.8 954.5 220.9 955.0 225.6 954.7C230.3 954.4 235.3 953.8 238.7 951.0C242.1 948.2 245.2 942.4 246.2 937.7C247.1 933.0 245.7 927.1 244.4 922.7C243.2 918.3 238.4 915.2 238.7 911.4C239.0 907.6 242.1 903.5 246.2 900.0C250.2 896.5 257.0 891.9 263.0 890.7C269.0 889.5 276.7 891.1 282.0 892.6C287.3 894.1 289.5 896.7 295.0 900.0C300.5 903.3 310.4 907.1 315.0 912.5C319.6 917.9 319.5 927.2 322.5 932.5C325.5 937.8 329.2 941.1 333.0 944.0C336.8 946.9 340.5 949.4 345.0 950.0C349.5 950.6 353.8 949.0 360.0 947.5C366.2 946.0 375.8 941.4 382.5 941.0C389.2 940.6 393.3 943.1 400.0 945.0C406.7 946.9 416.7 950.0 422.5 952.5C428.3 955.0 430.4 957.1 435.0 960.0C439.6 962.9 444.2 966.7 450.0 970.0C455.8 973.3 463.3 979.2 470.0 980.0C476.7 980.8 483.3 977.1 490.0 975.0C496.7 972.9 503.3 970.4 510.0 967.5C516.7 964.6 523.3 961.2 530.0 957.5C536.7 953.8 543.3 948.3 550.0 945.0C556.7 941.7 563.8 938.3 570.0 937.5C576.2 936.7 581.7 939.6 587.5 940.0C593.3 940.4 602.1 937.9 605.0 940.0C607.9 942.1 605.8 947.5 605.0 952.5C604.2 957.5 601.5 962.9 600.0 970.0C598.5 977.1 596.0 988.3 596.0 995.0C596.0 1001.7 596.8 1007.9 600.0 1010.0C603.2 1012.1 610.0 1009.2 615.0 1007.5C620.0 1005.8 625.0 1002.5 630.0 1000.0C635.0 997.5 639.6 993.3 645.0 992.5C650.4 991.7 656.2 992.5 662.5 995.0C668.8 997.5 677.5 1002.5 682.5 1007.5C687.5 1012.5 693.8 1020.8 692.5 1025.0C691.2 1029.2 680.4 1030.8 675.0 1032.5C669.6 1034.2 665.8 1033.1 660.0 1035.0C654.2 1036.9 646.2 1041.2 640.0 1043.7C633.8 1046.2 626.2 1046.5 622.5 1050.0C618.8 1053.5 620.0 1060.4 617.5 1065.0C615.0 1069.6 612.5 1073.8 607.5 1077.5C602.5 1081.2 593.3 1083.3 587.5 1087.5C581.7 1091.7 577.5 1098.8 572.5 1102.5C567.5 1106.2 562.9 1110.0 557.5 1110.0C552.1 1110.0 545.4 1103.8 540.0 1102.5C534.6 1101.2 528.3 1101.2 525.0 1102.5C521.7 1103.8 520.0 1107.1 520.0 1110.0C520.0 1112.9 522.9 1115.8 525.0 1120.0C527.1 1124.2 531.7 1131.2 532.5 1135.0C533.3 1138.8 532.9 1139.2 530.0 1142.5C527.1 1145.8 520.0 1150.0 515.0 1155.0C510.0 1160.0 505.0 1168.3 500.0 1172.5C495.0 1176.7 492.1 1177.5 485.0 1180.0C477.9 1182.5 465.4 1185.8 457.5 1187.5C449.6 1189.2 445.4 1188.8 437.5 1190.0C429.6 1191.2 417.9 1192.9 410.0 1195.0C402.1 1197.1 397.1 1199.6 390.0 1202.5C382.9 1205.4 374.2 1212.1 367.5 1212.5C360.8 1212.9 357.5 1207.9 350.0 1205.0C342.5 1202.1 333.8 1199.2 322.5 1195.0C311.2 1190.8 296.7 1182.9 282.5 1180.0C268.3 1177.1 251.2 1179.2 237.5 1177.5C223.8 1175.8 210.0 1171.7 200.0 1170.0C190.0 1168.3 182.1 1171.7 177.5 1167.5C172.9 1163.3 174.6 1151.2 172.5 1145.0C170.4 1138.8 168.8 1135.4 165.0 1130.0C161.2 1124.6 155.4 1117.7 150.0 1112.5C144.6 1107.3 139.6 1102.7 132.5 1098.7C125.4 1094.7 115.0 1091.0 107.5 1088.7C100.0 1086.4 94.5 1087.9 87.5 1085.0C80.5 1082.1 69.4 1075.4 65.8 1071.2C62.2 1067.0 64.2 1063.5 65.8 1060.0C67.4 1056.5 73.2 1053.3 75.2 1050.5C77.2 1047.7 77.1 1046.5 78.0 1043.0C78.9 1039.5 81.3 1034.5 80.8 1029.8C80.3 1025.1 77.1 1019.8 75.2 1014.8C73.3 1009.8 72.0 1004.2 69.5 999.8C67.0 995.4 63.4 991.3 60.0 988.5C56.6 985.7 52.3 985.1 48.9 982.9C45.5 980.7 42.3 979.1 39.5 975.3C36.7 971.5 34.5 964.0 32.0 960.0C29.5 956.0 24.7 954.1 24.4 951.0Z" fill="#4e80bb"/>
<g fill="#6a94cb" opacity="0.4" filter="url(#blur5)">
<path d="M390.0 960.0C405.0 951.7 441.7 990.0 470.0 990.0C498.3 990.0 538.3 958.3 560.0 960.0C581.7 961.7 586.7 991.7 600.0 1000.0C613.3 1008.3 633.3 1003.3 640.0 1010.0C646.7 1016.7 653.3 1028.3 640.0 1040.0C626.7 1051.7 588.3 1076.7 560.0 1080.0C531.7 1083.3 493.3 1060.8 470.0 1060.0C446.7 1059.2 435.0 1078.3 420.0 1075.0C405.0 1071.7 385.0 1059.2 380.0 1040.0C375.0 1020.8 375.0 968.3 390.0 960.0Z"/>
<path d="M200.0 960.0C215.0 951.7 276.7 943.3 300.0 950.0C323.3 956.7 335.0 983.3 340.0 1000.0C345.0 1016.7 343.3 1043.3 330.0 1050.0C316.7 1056.7 280.0 1048.3 260.0 1040.0C240.0 1031.7 220.0 1013.3 210.0 1000.0C200.0 986.7 185.0 968.3 200.0 960.0Z"/>
<path d="M75.0 1040.0C80.0 1033.3 94.2 1026.7 100.0 1030.0C105.8 1033.3 110.8 1050.8 110.0 1060.0C109.2 1069.2 101.7 1083.3 95.0 1085.0C88.3 1086.7 73.3 1077.5 70.0 1070.0C66.7 1062.5 70.0 1046.7 75.0 1040.0Z"/>
</g>
<ellipse cx="160" cy="1010" rx="45" ry="10" fill="#3a659c" opacity="0.5" filter="url(#blur8)"/>
<g fill="#6ebe4c">
<path d="M222.5 1135.0C223.0 1136.5 234.0 1135.5 240.0 1140.0C246.0 1144.5 249.5 1152.0 252.5 1157.5C255.5 1163.0 250.5 1165.0 255.0 1167.5C259.5 1170.0 266.0 1168.5 275.0 1170.0C284.0 1171.5 290.0 1172.5 300.0 1175.0C310.0 1177.5 315.0 1181.5 325.0 1182.5C335.0 1183.5 342.0 1181.5 350.0 1180.0C358.0 1178.5 362.5 1178.0 365.0 1175.0C367.5 1172.0 365.5 1168.5 362.5 1165.0C359.5 1161.5 349.5 1160.5 350.0 1157.5C350.5 1154.5 362.0 1154.5 365.0 1150.0C368.0 1145.5 368.0 1137.0 365.0 1135.0C362.0 1133.0 356.0 1141.0 350.0 1140.0C344.0 1139.0 341.0 1133.5 335.0 1130.0C329.0 1126.5 324.5 1125.5 320.0 1122.5C315.5 1119.5 310.0 1118.5 312.5 1115.0C315.0 1111.5 325.0 1110.0 332.5 1105.0C340.0 1100.0 345.5 1095.5 350.0 1090.0C354.5 1084.5 357.5 1081.5 355.0 1077.5C352.5 1073.5 342.0 1068.5 337.5 1070.0C333.0 1071.5 335.5 1079.0 332.5 1085.0C329.5 1091.0 327.0 1095.5 322.5 1100.0C318.0 1104.5 313.0 1103.0 310.0 1107.5C307.0 1112.0 312.0 1118.5 307.5 1122.5C303.0 1126.5 293.0 1130.5 287.5 1127.5C282.0 1124.5 279.5 1110.0 280.0 1107.5C280.5 1105.0 291.0 1109.5 290.0 1115.0C289.0 1120.5 282.0 1132.0 275.0 1135.0C268.0 1138.0 262.5 1130.5 255.0 1130.0C247.5 1129.5 244.0 1131.5 237.5 1132.5C231.0 1133.5 222.0 1133.5 222.5 1135.0Z"/>
<path d="M345.0 1100.0C347.0 1096.4 353.4 1094.0 358.0 1094.0C362.6 1094.0 365.2 1096.4 368.0 1100.0C370.8 1103.6 373.6 1108.4 372.0 1112.0C370.4 1115.6 364.8 1118.0 360.0 1118.0C355.2 1118.0 351.0 1115.6 348.0 1112.0C345.0 1108.4 343.0 1103.6 345.0 1100.0Z"/>
<path d="M340.0 1125.0C340.6 1122.2 349.0 1120.0 355.0 1120.0C361.0 1120.0 367.4 1122.4 370.0 1125.0C372.6 1127.6 371.6 1131.2 368.0 1133.0C364.4 1134.8 357.6 1135.6 352.0 1134.0C346.4 1132.4 339.4 1127.8 340.0 1125.0Z"/>
<path d="M472.5 1072.5C474.0 1067.7 476.0 1066.5 480.0 1066.0C484.0 1065.5 489.0 1066.7 492.5 1070.0C496.0 1073.3 494.0 1080.0 497.5 1082.5C501.0 1085.0 504.5 1083.5 510.0 1082.5C515.5 1081.5 519.0 1080.5 525.0 1077.5C531.0 1074.5 534.0 1068.8 540.0 1067.5C546.0 1066.2 550.5 1069.0 555.0 1071.0C559.5 1073.0 558.5 1075.7 562.5 1077.5C566.5 1079.3 573.0 1078.3 575.0 1080.0C577.0 1081.7 577.5 1084.5 572.5 1086.0C567.5 1087.5 557.5 1086.2 550.0 1087.5C542.5 1088.8 540.5 1091.0 535.0 1092.5C529.5 1094.0 525.5 1091.5 522.5 1095.0C519.5 1098.5 521.5 1105.5 520.0 1110.0C518.5 1114.5 521.0 1113.5 515.0 1117.5C509.0 1121.5 498.0 1125.5 490.0 1130.0C482.0 1134.5 477.0 1136.0 475.0 1140.0C473.0 1144.0 481.5 1147.0 480.0 1150.0C478.5 1153.0 473.5 1153.0 467.5 1155.0C461.5 1157.0 457.0 1157.0 450.0 1160.0C443.0 1163.0 437.0 1165.5 432.5 1170.0C428.0 1174.5 432.0 1179.5 427.5 1182.5C423.0 1185.5 414.5 1186.5 410.0 1185.0C405.5 1183.5 404.0 1178.5 405.0 1175.0C406.0 1171.5 416.0 1169.5 415.0 1167.5C414.0 1165.5 406.5 1164.5 400.0 1165.0C393.5 1165.5 389.5 1168.5 382.5 1170.0C375.5 1171.5 371.5 1170.5 365.0 1172.5C358.5 1174.5 353.0 1182.5 350.0 1180.0C347.0 1177.5 346.5 1166.0 350.0 1160.0C353.5 1154.0 360.0 1152.5 367.5 1150.0C375.0 1147.5 379.5 1147.5 387.5 1147.5C395.5 1147.5 402.0 1151.5 407.5 1150.0C413.0 1148.5 410.0 1143.5 415.0 1140.0C420.0 1136.5 425.5 1135.5 432.5 1132.5C439.5 1129.5 444.0 1128.5 450.0 1125.0C456.0 1121.5 457.5 1119.0 462.5 1115.0C467.5 1111.0 473.0 1110.0 475.0 1105.0C477.0 1100.0 473.0 1096.5 472.5 1090.0C472.0 1083.5 471.0 1077.3 472.5 1072.5Z"/>
</g>
<g fill="#8c8c8c">
<path d="M250.0 1150.0C252.8 1146.0 261.0 1146.0 270.0 1146.0C279.0 1146.0 285.4 1149.2 295.0 1150.0C304.6 1150.8 311.0 1148.4 318.0 1150.0C325.0 1151.6 329.2 1154.0 330.0 1158.0C330.8 1162.0 328.0 1168.4 322.0 1170.0C316.0 1171.6 307.4 1168.0 300.0 1166.0C292.6 1164.0 291.4 1160.8 285.0 1160.0C278.6 1159.2 273.8 1160.8 268.0 1162.0C262.2 1163.2 259.6 1168.4 256.0 1166.0C252.4 1163.6 247.2 1154.0 250.0 1150.0Z"/>
<path d="M272.0 1138.0C277.2 1137.6 288.4 1138.0 300.0 1140.0C311.6 1142.0 323.6 1145.6 330.0 1148.0C336.4 1150.4 338.0 1152.4 332.0 1152.0C326.0 1151.6 311.6 1148.0 300.0 1146.0C288.4 1144.0 279.6 1143.6 274.0 1142.0C268.4 1140.4 266.8 1138.4 272.0 1138.0Z"/>
<path d="M333.0 1126.0C334.4 1125.6 340.6 1127.8 345.0 1130.0C349.4 1132.2 354.0 1135.4 355.0 1137.0C356.0 1138.6 353.4 1139.0 350.0 1138.0C346.6 1137.0 341.4 1134.4 338.0 1132.0C334.6 1129.6 331.6 1126.4 333.0 1126.0Z"/>
</g>
<g fill="#4e80bb">
<path d="M318.0 1135.0C320.6 1134.4 328.6 1137.0 335.0 1140.0C341.4 1143.0 349.0 1147.4 350.0 1150.0C351.0 1152.6 345.6 1154.4 340.0 1153.0C334.4 1151.6 326.4 1146.6 322.0 1143.0C317.6 1139.4 315.4 1135.6 318.0 1135.0Z"/>
<path d="M420.0 1150.0C422.0 1147.4 433.0 1145.0 440.0 1143.0C447.0 1141.0 453.0 1139.0 455.0 1140.0C457.0 1141.0 455.0 1144.8 450.0 1148.0C445.0 1151.2 436.0 1155.6 430.0 1156.0C424.0 1156.4 418.0 1152.6 420.0 1150.0Z"/>
<path d="M375.0 1158.0C376.0 1156.4 389.0 1155.6 395.0 1156.0C401.0 1156.4 406.0 1158.4 405.0 1160.0C404.0 1161.6 396.0 1164.4 390.0 1164.0C384.0 1163.6 374.0 1159.6 375.0 1158.0Z"/>
</g>
<path d="M24.4 951.0C24.1 947.9 25.3 943.7 30.0 941.5C34.7 939.3 45.7 939.3 52.6 937.7C59.5 936.1 65.1 934.5 71.4 932.0C77.7 929.5 84.6 925.5 90.2 922.7C95.8 919.9 100.3 916.9 105.3 915.0C110.3 913.1 116.4 913.4 120.3 911.4C124.2 909.4 125.7 902.4 128.8 903.0C131.9 903.6 134.5 912.3 139.0 915.0C143.5 917.7 151.6 916.8 156.0 919.0C160.4 921.2 163.2 925.2 165.4 928.3C167.6 931.4 165.2 935.0 169.0 937.7C172.8 940.4 181.1 941.8 188.0 944.3C194.9 946.8 204.2 951.1 210.5 952.8C216.8 954.5 220.9 955.0 225.6 954.7C230.3 954.4 235.3 953.8 238.7 951.0C242.1 948.2 245.2 942.4 246.2 937.7C247.1 933.0 245.7 927.1 244.4 922.7C243.2 918.3 238.4 915.2 238.7 911.4C239.0 907.6 242.1 903.5 246.2 900.0C250.2 896.5 257.0 891.9 263.0 890.7C269.0 889.5 276.7 891.1 282.0 892.6C287.3 894.1 289.5 896.7 295.0 900.0C300.5 903.3 310.4 907.1 315.0 912.5C319.6 917.9 319.5 927.2 322.5 932.5C325.5 937.8 329.2 941.1 333.0 944.0C336.8 946.9 340.5 949.4 345.0 950.0C349.5 950.6 353.8 949.0 360.0 947.5C366.2 946.0 375.8 941.4 382.5 941.0C389.2 940.6 393.3 943.1 400.0 945.0C406.7 946.9 416.7 950.0 422.5 952.5C428.3 955.0 430.4 957.1 435.0 960.0C439.6 962.9 444.2 966.7 450.0 970.0C455.8 973.3 463.3 979.2 470.0 980.0C476.7 980.8 483.3 977.1 490.0 975.0C496.7 972.9 503.3 970.4 510.0 967.5C516.7 964.6 523.3 961.2 530.0 957.5C536.7 953.8 543.3 948.3 550.0 945.0C556.7 941.7 563.8 938.3 570.0 937.5C576.2 936.7 581.7 939.6 587.5 940.0C593.3 940.4 602.1 937.9 605.0 940.0C607.9 942.1 605.8 947.5 605.0 952.5C604.2 957.5 601.5 962.9 600.0 970.0C598.5 977.1 596.0 988.3 596.0 995.0C596.0 1001.7 596.8 1007.9 600.0 1010.0C603.2 1012.1 610.0 1009.2 615.0 1007.5C620.0 1005.8 625.0 1002.5 630.0 1000.0C635.0 997.5 639.6 993.3 645.0 992.5C650.4 991.7 656.2 992.5 662.5 995.0C668.8 997.5 677.5 1002.5 682.5 1007.5C687.5 1012.5 693.8 1020.8 692.5 1025.0C691.2 1029.2 680.4 1030.8 675.0 1032.5C669.6 1034.2 665.8 1033.1 660.0 1035.0C654.2 1036.9 646.2 1041.2 640.0 1043.7C633.8 1046.2 626.2 1046.5 622.5 1050.0C618.8 1053.5 620.0 1060.4 617.5 1065.0C615.0 1069.6 612.5 1073.8 607.5 1077.5C602.5 1081.2 593.3 1083.3 587.5 1087.5C581.7 1091.7 577.5 1098.8 572.5 1102.5C567.5 1106.2 562.9 1110.0 557.5 1110.0C552.1 1110.0 545.4 1103.8 540.0 1102.5C534.6 1101.2 528.3 1101.2 525.0 1102.5C521.7 1103.8 520.0 1107.1 520.0 1110.0C520.0 1112.9 522.9 1115.8 525.0 1120.0C527.1 1124.2 531.7 1131.2 532.5 1135.0C533.3 1138.8 532.9 1139.2 530.0 1142.5C527.1 1145.8 520.0 1150.0 515.0 1155.0C510.0 1160.0 505.0 1168.3 500.0 1172.5C495.0 1176.7 492.1 1177.5 485.0 1180.0C477.9 1182.5 465.4 1185.8 457.5 1187.5C449.6 1189.2 445.4 1188.8 437.5 1190.0C429.6 1191.2 417.9 1192.9 410.0 1195.0C402.1 1197.1 397.1 1199.6 390.0 1202.5C382.9 1205.4 374.2 1212.1 367.5 1212.5C360.8 1212.9 357.5 1207.9 350.0 1205.0C342.5 1202.1 333.8 1199.2 322.5 1195.0C311.2 1190.8 296.7 1182.9 282.5 1180.0C268.3 1177.1 251.2 1179.2 237.5 1177.5C223.8 1175.8 210.0 1171.7 200.0 1170.0C190.0 1168.3 182.1 1171.7 177.5 1167.5C172.9 1163.3 174.6 1151.2 172.5 1145.0C170.4 1138.8 168.8 1135.4 165.0 1130.0C161.2 1124.6 155.4 1117.7 150.0 1112.5C144.6 1107.3 139.6 1102.7 132.5 1098.7C125.4 1094.7 115.0 1091.0 107.5 1088.7C100.0 1086.4 94.5 1087.9 87.5 1085.0C80.5 1082.1 69.4 1075.4 65.8 1071.2C62.2 1067.0 64.2 1063.5 65.8 1060.0C67.4 1056.5 73.2 1053.3 75.2 1050.5C77.2 1047.7 77.1 1046.5 78.0 1043.0C78.9 1039.5 81.3 1034.5 80.8 1029.8C80.3 1025.1 77.1 1019.8 75.2 1014.8C73.3 1009.8 72.0 1004.2 69.5 999.8C67.0 995.4 63.4 991.3 60.0 988.5C56.6 985.7 52.3 985.1 48.9 982.9C45.5 980.7 42.3 979.1 39.5 975.3C36.7 971.5 34.5 964.0 32.0 960.0C29.5 956.0 24.7 954.1 24.4 951.0Z" fill="none" stroke="#1a1718" stroke-width="7.5" stroke-dasharray="21 14"/>
<rect x="366.5" y="1026.500" width="257.500" height="223.500" fill="none" stroke="#111" stroke-width="2.500"/>
<path d="M430.0 1185.0C430.0 1183.3 428.8 1178.3 430.0 1175.0C431.2 1171.7 433.3 1169.2 437.5 1165.0C441.7 1160.8 448.8 1155.0 455.0 1150.0C461.2 1145.0 468.3 1139.6 475.0 1135.0C481.7 1130.4 487.9 1125.8 495.0 1122.5C502.1 1119.2 513.8 1116.2 517.5 1115.0" fill="none" stroke="#e2392b" stroke-width="2"/>
<path d="M432.5 1167.5C433.1 1164.6 433.5 1155.0 436.0 1150.0C438.5 1145.0 442.2 1140.0 447.5 1137.5C452.8 1135.0 462.1 1138.3 467.5 1135.0C472.9 1131.7 475.8 1122.5 480.0 1117.5C484.2 1112.5 488.3 1107.9 492.5 1105.0C496.7 1102.1 500.0 1102.1 505.0 1100.0C510.0 1097.9 519.6 1093.8 522.5 1092.5" fill="none" stroke="#fff" stroke-width="1.800" stroke-dasharray="5 4"/>
<g font-size="22.500" class="b w">
<text x="110" y="993.500">Mongolia</text>
<text x="217.500" y="1066">Western</text><text x="217.500" y="1094.500">Gobi</text><text x="217.500" y="1122">Basin</text>
<text x="382.500" y="1059.500">Eastern</text><text x="382.500" y="1086.500">Gobi</text><text x="382.500" y="1114">Basin</text>
</g>
<text x="28.500" y="741" font-size="22.500" class="b">b</text>
<!-- arrows -->
<g filter="url(#blur12)" opacity="0.5" fill="#444">
<path d="M506.0 1101.0C506.2 1104.2 505.7 1107.7 507.0 1120.0C508.3 1132.3 511.5 1157.5 513.7 1175.0C515.9 1192.5 517.3 1213.8 520.0 1225.0C522.7 1236.2 526.2 1240.0 530.0 1242.5C533.8 1245.0 538.3 1242.9 542.5 1240.0C546.7 1237.1 547.5 1232.5 555.0 1225.0C562.5 1217.5 578.3 1203.8 587.5 1195.0C596.7 1186.2 603.8 1176.2 610.0 1172.5C616.2 1168.8 619.2 1170.4 625.0 1172.5C630.8 1174.6 638.8 1181.6 645.0 1185.0C651.2 1188.4 659.2 1191.7 662.0 1193.0L654 1210L726 1192.5L656 1166L657.5 1175.0C654.2 1173.8 643.3 1170.7 637.5 1167.5C631.7 1164.3 626.7 1158.5 622.5 1156.0C618.3 1153.5 615.8 1152.2 612.5 1152.5C609.2 1152.8 606.7 1153.8 602.5 1157.5C598.3 1161.2 594.2 1167.9 587.5 1175.0C580.8 1182.1 570.4 1191.8 562.5 1200.0C554.6 1208.2 545.1 1219.7 540.0 1224.0C534.9 1228.3 534.0 1227.5 532.0 1226.0C530.0 1224.5 529.6 1223.5 528.0 1215.0C526.4 1206.5 525.6 1190.8 522.5 1175.0C519.4 1159.2 512.1 1132.3 509.5 1120.0C506.9 1107.7 507.4 1104.2 507.0 1101.0Z" transform="translate(22,28)"/>
<ellipse cx="700" cy="1225" rx="40" ry="16"/>
<path d="M1156.0 1043.0C1156.8 1035.8 1159.3 1014.5 1160.7 1000.0C1162.1 985.5 1163.1 965.8 1164.5 956.0C1165.9 946.2 1166.3 944.6 1169.0 941.0C1171.7 937.4 1175.5 935.4 1180.5 934.5C1185.5 933.6 1195.9 935.3 1199.0 935.5L1202 920.5L1261 968L1185 961L1195.5 951.5C1193.8 951.0 1187.8 946.9 1185.0 948.6C1182.2 950.3 1180.0 953.2 1178.6 961.8C1177.2 970.4 1180.0 986.5 1176.7 1000.0C1173.4 1013.5 1161.5 1035.8 1158.5 1043.0Z" transform="translate(20,24)"/>
<ellipse cx="1238" cy="982" rx="30" ry="14"/>
</g>
<path d="M432.5 863.0C429.1 857.3 419.4 840.5 412.0 829.0C404.6 817.5 398.3 804.0 388.0 794.0C377.7 784.0 364.7 774.5 350.0 769.0C335.3 763.5 314.7 762.0 300.0 761.0C285.3 760.0 274.5 761.1 262.0 763.0C249.5 764.9 237.8 766.8 225.0 772.5C212.2 778.2 196.7 788.2 185.0 797.0C173.3 805.8 161.2 817.0 155.0 825.0C148.8 833.0 146.7 838.2 147.5 845.0C148.3 851.8 151.2 859.6 160.0 866.0C168.8 872.4 185.0 877.8 200.0 883.5C215.0 889.2 235.4 893.9 250.0 900.0C264.6 906.1 275.8 912.5 287.5 920.0C299.2 927.5 314.6 940.8 320.0 945.0L317.5 960L345 958L362.5 1020L362.5 945L345 940L327.5 927.5C322.1 923.8 307.9 912.5 295.0 905.0C282.1 897.5 264.6 888.8 250.0 882.5C235.4 876.2 219.5 871.9 207.5 867.5C195.5 863.1 185.4 860.2 178.0 856.0C170.6 851.8 164.3 847.0 163.0 842.0C161.7 837.0 164.5 832.2 170.0 826.0C175.5 819.8 186.0 811.4 196.0 805.0C206.0 798.6 218.5 792.2 230.0 787.5C241.5 782.8 253.3 779.3 265.0 777.0C276.7 774.7 286.7 773.5 300.0 773.7C313.3 773.9 330.8 774.0 345.0 778.0C359.2 782.0 374.2 788.7 385.0 797.5C395.8 806.3 402.1 819.9 410.0 831.0C417.9 842.1 428.8 858.5 432.5 864.0Z" fill="#ea7a9f"/>
<path d="M506.0 1101.0C506.2 1104.2 505.7 1107.7 507.0 1120.0C508.3 1132.3 511.5 1157.5 513.7 1175.0C515.9 1192.5 517.3 1213.8 520.0 1225.0C522.7 1236.2 526.2 1240.0 530.0 1242.5C533.8 1245.0 538.3 1242.9 542.5 1240.0C546.7 1237.1 547.5 1232.5 555.0 1225.0C562.5 1217.5 578.3 1203.8 587.5 1195.0C596.7 1186.2 603.8 1176.2 610.0 1172.5C616.2 1168.8 619.2 1170.4 625.0 1172.5C630.8 1174.6 638.8 1181.6 645.0 1185.0C651.2 1188.4 659.2 1191.7 662.0 1193.0L654 1210L726 1192.5L656 1166L657.5 1175.0C654.2 1173.8 643.3 1170.7 637.5 1167.5C631.7 1164.3 626.7 1158.5 622.5 1156.0C618.3 1153.5 615.8 1152.2 612.5 1152.5C609.2 1152.8 606.7 1153.8 602.5 1157.5C598.3 1161.2 594.2 1167.9 587.5 1175.0C580.8 1182.1 570.4 1191.8 562.5 1200.0C554.6 1208.2 545.1 1219.7 540.0 1224.0C534.9 1228.3 534.0 1227.5 532.0 1226.0C530.0 1224.5 529.6 1223.5 528.0 1215.0C526.4 1206.5 525.6 1190.8 522.5 1175.0C519.4 1159.2 512.1 1132.3 509.5 1120.0C506.9 1107.7 507.4 1104.2 507.0 1101.0Z" fill="#ea7a9f"/>
<path d="M1156.0 1043.0C1156.8 1035.8 1159.3 1014.5 1160.7 1000.0C1162.1 985.5 1163.1 965.8 1164.5 956.0C1165.9 946.2 1166.3 944.6 1169.0 941.0C1171.7 937.4 1175.5 935.4 1180.5 934.5C1185.5 933.6 1195.9 935.3 1199.0 935.5L1202 920.5L1261 968L1185 961L1195.5 951.5C1193.8 951.0 1187.8 946.9 1185.0 948.6C1182.2 950.3 1180.0 953.2 1178.6 961.8C1177.2 970.4 1180.0 986.5 1176.7 1000.0C1173.4 1013.5 1161.5 1035.8 1158.5 1043.0Z" fill="#ea7a9f"/>
<path d="M432.5 853.5L435.0 860.6L442.5 860.8L436.5 865.3L438.7 872.5L432.5 868.2L426.3 872.5L428.5 865.3L422.5 860.8L430.0 860.6Z" fill="#f4f4f4" stroke="#e9a5bb" stroke-width="0.6"/>
<path d="M506.0 1089.0L508.9 1097.0L517.4 1097.3L510.8 1102.5L513.1 1110.7L506.0 1106.0L498.9 1110.7L501.2 1102.5L494.6 1097.3L503.1 1097.0Z" fill="#ea7a9f"/>
<g filter="url(#blur10)" opacity="0.5" fill="#3a3d42">
<path d="M406.0 385.0C406.2 391.7 406.4 412.6 407.0 425.0C407.6 437.4 408.2 448.9 409.3 459.7C410.4 470.5 411.8 481.3 413.6 490.0C415.4 498.7 417.3 504.6 420.0 511.8C422.7 519.0 426.2 527.4 430.0 533.5C433.8 539.6 438.2 544.6 442.9 548.6C447.6 552.6 452.2 555.5 458.0 557.3C463.8 559.1 471.1 560.2 477.6 559.5C484.1 558.8 490.9 555.9 497.0 553.0C503.1 550.1 508.6 546.3 514.4 542.0C520.2 537.7 526.7 532.0 531.8 527.0C536.9 522.0 541.5 516.1 544.8 511.8C548.0 507.5 550.2 502.8 551.3 501.0L553.5 512.9L585 442.4L519.9 483.6L537.2 488.0C535.9 491.2 533.4 501.3 529.6 507.4C525.8 513.5 519.8 519.7 514.4 524.8C509.0 529.9 502.8 534.2 497.0 537.8C491.2 541.4 485.1 544.9 479.7 546.5C474.3 548.1 469.3 548.4 464.6 547.6C459.9 546.9 455.9 545.1 451.5 542.0C447.1 538.9 442.5 534.4 438.5 529.0C434.5 523.6 430.6 516.1 427.7 509.6C424.8 503.1 423.0 498.3 421.2 490.0C419.4 481.7 418.3 470.5 416.9 459.7C415.4 448.9 413.7 437.4 412.5 425.0C411.3 412.6 410.0 391.7 409.5 385.0Z" transform="translate(22,22)" stroke="#3a3d42" stroke-width="4"/>
<path d="M891.0 397.0C892.7 396.4 898.5 395.3 901.0 393.5C903.5 391.7 905.1 389.2 906.0 386.0C906.9 382.8 907.9 378.0 906.5 374.0C905.1 370.0 901.9 367.5 897.5 362.0C893.1 356.5 888.8 349.8 880.0 341.0C871.2 332.2 856.7 318.8 845.0 309.5C833.3 300.2 821.2 292.4 810.0 285.0C798.8 277.6 785.5 269.7 778.0 265.0C770.5 260.3 768.0 259.5 765.0 257.0C762.0 254.5 760.6 252.5 760.0 250.0C759.4 247.5 759.8 244.8 761.5 242.0C763.2 239.2 765.4 236.2 770.0 233.5C774.6 230.8 779.2 227.7 789.0 225.5C798.8 223.3 815.5 221.1 828.7 220.5C841.9 219.9 857.3 221.1 868.0 222.0C878.7 222.9 888.8 225.3 893.0 226.0L893 209L947.500 266L871.500 248L880.0 243.0C877.1 241.7 871.3 236.5 862.8 235.0C854.2 233.5 839.7 233.2 828.7 234.0C817.7 234.8 805.1 237.5 797.0 239.5C788.9 241.5 783.8 244.1 780.0 246.0C776.2 247.9 774.3 249.3 774.0 251.0C773.7 252.7 771.4 251.5 778.0 256.0C784.6 260.5 801.2 270.2 813.5 278.0C825.8 285.8 840.3 293.2 852.0 302.5C863.7 311.8 875.0 324.7 883.5 334.0C892.0 343.3 898.5 352.1 902.8 358.5C907.0 364.9 908.1 367.8 909.0 372.5C909.9 377.2 909.5 383.0 908.0 386.5C906.5 390.0 902.8 392.1 900.0 393.5C897.2 394.9 892.5 394.8 891.0 395.0Z" transform="translate(18,22)" stroke="#3a3d42" stroke-width="4"/>
</g>
<path d="M406.0 385.0C406.2 391.7 406.4 412.6 407.0 425.0C407.6 437.4 408.2 448.9 409.3 459.7C410.4 470.5 411.8 481.3 413.6 490.0C415.4 498.7 417.3 504.6 420.0 511.8C422.7 519.0 426.2 527.4 430.0 533.5C433.8 539.6 438.2 544.6 442.9 548.6C447.6 552.6 452.2 555.5 458.0 557.3C463.8 559.1 471.1 560.2 477.6 559.5C484.1 558.8 490.9 555.9 497.0 553.0C503.1 550.1 508.6 546.3 514.4 542.0C520.2 537.7 526.7 532.0 531.8 527.0C536.9 522.0 541.5 516.1 544.8 511.8C548.0 507.5 550.2 502.8 551.3 501.0L553.5 512.9L585 442.4L519.9 483.6L537.2 488.0C535.9 491.2 533.4 501.3 529.6 507.4C525.8 513.5 519.8 519.7 514.4 524.8C509.0 529.9 502.8 534.2 497.0 537.8C491.2 541.4 485.1 544.9 479.7 546.5C474.3 548.1 469.3 548.4 464.6 547.6C459.9 546.9 455.9 545.1 451.5 542.0C447.1 538.9 442.5 534.4 438.5 529.0C434.5 523.6 430.6 516.1 427.7 509.6C424.8 503.1 423.0 498.3 421.2 490.0C419.4 481.7 418.3 470.5 416.9 459.7C415.4 448.9 413.7 437.4 412.5 425.0C411.3 412.6 410.0 391.7 409.5 385.0Z" fill="#111"/>
<path d="M891.0 397.0C892.7 396.4 898.5 395.3 901.0 393.5C903.5 391.7 905.1 389.2 906.0 386.0C906.9 382.8 907.9 378.0 906.5 374.0C905.1 370.0 901.9 367.5 897.5 362.0C893.1 356.5 888.8 349.8 880.0 341.0C871.2 332.2 856.7 318.8 845.0 309.5C833.3 300.2 821.2 292.4 810.0 285.0C798.8 277.6 785.5 269.7 778.0 265.0C770.5 260.3 768.0 259.5 765.0 257.0C762.0 254.5 760.6 252.5 760.0 250.0C759.4 247.5 759.8 244.8 761.5 242.0C763.2 239.2 765.4 236.2 770.0 233.5C774.6 230.8 779.2 227.7 789.0 225.5C798.8 223.3 815.5 221.1 828.7 220.5C841.9 219.9 857.3 221.1 868.0 222.0C878.7 222.9 888.8 225.3 893.0 226.0L893 209L947.500 266L871.500 248L880.0 243.0C877.1 241.7 871.3 236.5 862.8 235.0C854.2 233.5 839.7 233.2 828.7 234.0C817.7 234.8 805.1 237.5 797.0 239.5C788.9 241.5 783.8 244.1 780.0 246.0C776.2 247.9 774.3 249.3 774.0 251.0C773.7 252.7 771.4 251.5 778.0 256.0C784.6 260.5 801.2 270.2 813.5 278.0C825.8 285.8 840.3 293.2 852.0 302.5C863.7 311.8 875.0 324.7 883.5 334.0C892.0 343.3 898.5 352.1 902.8 358.5C907.0 364.9 908.1 367.8 909.0 372.5C909.9 377.2 909.5 383.0 908.0 386.5C906.5 390.0 902.8 392.1 900.0 393.5C897.2 394.9 892.5 394.8 891.0 395.0Z" fill="#111"/>
<!-- panel b time scale -->
<g fill="none" stroke="#231f20" stroke-width="2.6">
<rect x="728.5" y="797.5" width="147" height="573" fill="none"/>
<path d="M759.5 797.5V1370.5M793 797.5V1370.5"/>
<path d="M793 856H875.5M793 980H875.5M793 1003.5H875.5M793 1038.5L875.5 1039.5M793 1086H875.5M759.5 1148H793L875.5 1149.5M793 1316.5L875.5 1318.5"/>
<rect x="877.5" y="919" width="135.500" height="76.500" fill="#f0a08a"/>
<rect x="877.5" y="1029" width="135.500" height="64.500" fill="#e0953c"/>
<rect x="877.5" y="1103" width="135.500" height="23" fill="#819f72"/>
<rect x="877.5" y="1141" width="135.500" height="140" fill="#f1c761"/>
<path d="M911.5 1141V1281M911.5 1212H1013"/>
<rect x="877.5" y="1288.500" width="135.500" height="82" fill="#49656a"/>
<rect x="1020.5" y="753" width="42.500" height="375" fill="#e6c8bf"/>
<rect x="1020.5" y="1141" width="42.500" height="229.500" fill="#a1a1a5"/>
</g>
<rect x="876.2" y="1126" width="188" height="15.500" fill="#231f20"/>
<g font-size="12.5" class="m b w">
<text x="885" y="1140">?</text><text x="916" y="1140">?</text><text x="951" y="1140">?</text><text x="982" y="1140">?</text><text x="1012" y="1140">?</text><text x="1044" y="1140">?</text>
</g>
<g font-size="21.5" class="m">
<text x="732.5" y="791">Prd.</text>
<text x="780.5" y="794">Ep.</text>
<text x="837.5" y="791">Age</text>
</g>
<g font-size="22.5" class="m">
<text x="832" y="832.5">Maas</text>
<text x="831.5" y="932">Cam</text>
<text x="832" y="999">San</text>
<text x="832" y="1032">Con</text>
<text x="832" y="1076">Tur</text>
<text x="832" y="1127">Cen</text>
<text x="832" y="1246.500">Alb</text>
<text x="833" y="1356">Apt</text>
<text transform="translate(747,1073) rotate(-90)">Cretaceous</text>
<text transform="translate(780.5,981) rotate(-90)">Late</text>
<text transform="translate(779.5,1246) rotate(-90)">Early</text>
<text transform="translate(715,1343) rotate(-90)" font-size="26">(Ma)</text>
</g>
<g font-size="22.5" class="e">
<text x="725" y="844">70</text>
<text x="725" y="948">80</text>
<text x="725" y="1057">90</text>
<text x="722" y="1168.500">100</text>
</g>
<g font-size="22.5" class="m b">
<text x="936" y="806">Eastern</text>
<text x="936" y="833.500">Gobi</text>
<text x="939" y="862">Basin</text>
<text x="935" y="1021.500" font-size="25" style="font-weight:normal">?</text>
</g>
<g font-size="20" class="m">
<text x="945" y="938" textLength="112" lengthAdjust="spacingAndGlyphs">Baruungoyot/</text>
<text x="945" y="965" textLength="91" lengthAdjust="spacingAndGlyphs">Djadokhta/</text>
<text x="944" y="992.5" textLength="81" lengthAdjust="spacingAndGlyphs">Javkhlant</text>
<text x="948" y="1070" textLength="107" lengthAdjust="spacingAndGlyphs">Bayanshiree</text>
<text x="947" y="1122" textLength="102" lengthAdjust="spacingAndGlyphs">Barunbayan</text>
<text x="957" y="1186.500" textLength="48" lengthAdjust="spacingAndGlyphs">upper</text>
<text x="957" y="1247" textLength="45" lengthAdjust="spacingAndGlyphs">lower</text>
<text x="945" y="1337.500" textLength="110" lengthAdjust="spacingAndGlyphs" class="w">Shinekhudag</text>
<text transform="translate(901,1211.500) rotate(-90)" textLength="88" lengthAdjust="spacingAndGlyphs">Khukhteeg</text>
</g>
<g class="m" style="fill:#fff">
<text transform="translate(1054,983) rotate(-90)" font-size="37.500" class="w" textLength="214" lengthAdjust="spacingAndGlyphs">Post-Rift Seq.</text>
<text transform="translate(1054,1249) rotate(-90)" font-size="37.500" class="w" textLength="209" lengthAdjust="spacingAndGlyphs">Syn-Rift Seq.</text>
</g>
<g font-size="19.500" class="m b">
<text x="1038.500" y="776.500">T</text><text x="1038.500" y="802">E</text><text x="1038.500" y="829.500">C</text>
</g>

<!-- nest symbol -->
<defs><linearGradient id="mg" x1="0" y1="0" x2="0" y2="1"><stop offset="0" stop-color="#c19654"/><stop offset="0.55" stop-color="#a97c3f"/><stop offset="1" stop-color="#8a6230"/></linearGradient>
<g id="nest"><path d="M0.0 27.0L8.4 25.3L18.6 23.6L30.4 16.9L42.0 9.0L52.3 3.4L62.4 0.8L74.2 3.4L86.0 0.0L97.9 3.4L108.0 9.0L118.0 15.2L128.2 16.9L137.0 17.0L145.0 20.2L150.2 28.7L146.0 33.0L148.5 38.8L141.0 42.0L140.0 47.0L130.0 49.0L128.2 53.5L118.0 53.0L108.0 58.5L98.0 57.0L86.0 63.0L78.0 59.0L69.2 62.0L60.0 58.0L52.3 61.5L44.0 56.0L35.4 56.5L28.0 50.0L18.6 49.5L14.0 44.0L6.0 45.0L7.0 39.0L1.7 35.4L5.0 31.0Z" fill="url(#mg)" stroke="#3a2a14" stroke-width="0.7" stroke-linejoin="round"/><path d="M16 30L30 26M26 40L38 45M48 38L42 48M62 40L58 54M88 36L104 54M106 32L124 46M120 26L138 35M130 21L142 26M74 44L72 56M10 35L20 37M112 40L118 50" stroke="#3a2a14" stroke-width="0.6" fill="none"/><g fill="#23a898" stroke="#0c5d55" stroke-width="0.8"><ellipse cx="52.3" cy="10.0" rx="10.5" ry="4.300" transform="rotate(160 52.3 10.0)"/><ellipse cx="62.4" cy="11.8" rx="10.5" ry="4.300" transform="rotate(130 62.4 11.8)"/><ellipse cx="70.9" cy="10.0" rx="10.5" ry="4.300" transform="rotate(100 70.9 10.0)"/><ellipse cx="78.5" cy="9.0" rx="10.5" ry="4.300" transform="rotate(88 78.5 9.0)"/><ellipse cx="86.0" cy="10.0" rx="10.5" ry="4.300" transform="rotate(75 86.0 10.0)"/><ellipse cx="97.9" cy="10.0" rx="10.5" ry="4.300" transform="rotate(40 97.9 10.0)"/><ellipse cx="106.0" cy="11.0" rx="10.5" ry="4.300" transform="rotate(20 106.0 11.0)"/><ellipse cx="43.9" cy="18.6" rx="12.5" ry="4.800" transform="rotate(165 43.9 18.6)"/><ellipse cx="109.7" cy="16.9" rx="12.5" ry="4.800" transform="rotate(25 109.7 16.9)"/><ellipse cx="50.6" cy="24.5" rx="12.5" ry="4.800" transform="rotate(150 50.6 24.5)"/><ellipse cx="101.0" cy="22.0" rx="12.5" ry="4.800" transform="rotate(45 101.0 22.0)"/><ellipse cx="60.7" cy="27.0" rx="12.5" ry="4.800" transform="rotate(120 60.7 27.0)"/><ellipse cx="91.0" cy="22.8" rx="12.5" ry="4.800" transform="rotate(65 91.0 22.8)"/><ellipse cx="70.9" cy="23.6" rx="12.5" ry="4.800" transform="rotate(100 70.9 23.6)"/><ellipse cx="81.0" cy="22.0" rx="12.5" ry="4.800" transform="rotate(85 81.0 22.0)"/></g></g></defs>
<use href="#nest" transform="translate(1446.500,352)"/>
<use href="#nest" transform="translate(1064,1078) scale(0.980)"/>
<use href="#nest" transform="translate(1439,1200.500) scale(0.940)"/>
<g class="m" font-size="18.500">
<text transform="translate(1123.500,863) rotate(-90)" textLength="94" lengthAdjust="spacingAndGlyphs">Balzhinyam</text>
<text transform="translate(1149.500,884) rotate(-90)" textLength="51" lengthAdjust="spacingAndGlyphs">(2007)</text>
<text transform="translate(1128,1323.500) rotate(-90)" textLength="119" lengthAdjust="spacingAndGlyphs">Watabe et al.</text>
<text transform="translate(1152.500,1295) rotate(-90)" textLength="62" lengthAdjust="spacingAndGlyphs">(2010)</text>
<text x="1131.500" y="1048.500" font-size="19" textLength="85" lengthAdjust="spacingAndGlyphs">Teel Ulaan</text>
<text x="1133.500" y="1073" font-size="19" textLength="67" lengthAdjust="spacingAndGlyphs">Chaltsai</text>
<text x="1130" y="953.500" font-size="40" class="b">?</text>
<text x="1135" y="1263" font-size="40" class="b">?</text>
</g>
<path d="M1133.500 1030V975M1133.500 1146V1212" stroke="#111" stroke-width="2.800" fill="none"/>
<path d="M1133.500 959L1145.500 991L1133.500 983L1121.500 991Z" fill="#111"/>
<path d="M1133.500 1228L1145.500 1196L1133.500 1204L1121.500 1196Z" fill="#111"/>
<g>
<rect x="1319" y="905" width="54" height="110" fill="#c3242e"/>
<rect x="1319" y="1134" width="54" height="60.500" fill="#c3242e"/>
<rect x="1319" y="1206.0" width="58.500" height="29.0" fill="#e7342c"/>
<rect x="1319" y="1249.5" width="58.500" height="40.5" fill="#e7342c"/>
<rect x="1319" y="1304.0" width="58.500" height="33.0" fill="#e7342c"/>
<path d="M1319.0 1015.0L1445.0 1016.0L1447.0 1041.5L1451.0 1049.0L1452.5 1071.7L1443.0 1083.0L1439.0 1103.0L1451.0 1106.0L1448.7 1121.0L1443.0 1134.0L1319.0 1132.0Z" fill="#f1f0b3"/>
<path d="M1453 1083L1440 1086L1438 1104L1453 1106Z" fill="#fff"/>
<g fill="#dcdcdc"><rect x="1321" y="1129" width="67" height="10.500"/><rect x="1321" y="1149" width="66" height="8"/><rect x="1321" y="1173" width="66" height="4.500"/></g>
<path d="M1326.0 910.0H1343.0M1349.0 910.0H1366.0M1323.0 921.5H1331.0M1337.0 921.5H1355.0M1361.0 921.5H1371.0M1326.0 933.0H1343.0M1349.0 933.0H1366.0M1323.0 944.5H1331.0M1337.0 944.5H1355.0M1361.0 944.5H1371.0M1326.0 956.0H1343.0M1349.0 956.0H1366.0M1323.0 967.5H1331.0M1337.0 967.5H1355.0M1361.0 967.5H1371.0M1326.0 979.0H1343.0M1349.0 979.0H1366.0M1323.0 990.5H1331.0M1337.0 990.5H1355.0M1361.0 990.5H1371.0M1326.0 1002.0H1343.0M1349.0 1002.0H1366.0M1326.0 1145.0H1343.0M1349.0 1145.0H1366.0M1323.0 1156.5H1331.0M1337.0 1156.5H1355.0M1361.0 1156.5H1371.0M1326.0 1168.0H1343.0M1349.0 1168.0H1366.0M1323.0 1179.5H1331.0M1337.0 1179.5H1355.0M1361.0 1179.5H1371.0M1326.0 1191.0H1343.0M1349.0 1191.0H1366.0M1327.0 1211.0H1345.0M1351.0 1211.0H1369.0M1323.0 1221.5H1331.0M1337.0 1221.5H1355.0M1361.0 1221.5H1375.0M1327.0 1232.0H1345.0M1351.0 1232.0H1369.0M1327.0 1255.0H1345.0M1351.0 1255.0H1369.0M1323.0 1266.0H1331.0M1337.0 1266.0H1355.0M1361.0 1266.0H1375.0M1327.0 1277.0H1345.0M1351.0 1277.0H1369.0M1327.0 1309.0H1345.0M1351.0 1309.0H1369.0M1323.0 1320.0H1331.0M1337.0 1320.0H1355.0M1361.0 1320.0H1375.0M1327.0 1331.0H1345.0M1351.0 1331.0H1369.0" stroke="#5a1014" stroke-width="1.300" fill="none"/>
<g fill="#231f20"><rect x="1324.2" y="1021.4" width="1.600" height="1.600"/><rect x="1333.6" y="1022.2" width="1.600" height="1.600"/><rect x="1343.4" y="1021.1" width="1.600" height="1.600"/><rect x="1350.5" y="1023.8" width="1.600" height="1.600"/><rect x="1360.3" y="1022.3" width="1.600" height="1.600"/><rect x="1371.5" y="1023.3" width="1.600" height="1.600"/><rect x="1380.0" y="1023.4" width="1.600" height="1.600"/><rect x="1388.4" y="1022.4" width="1.600" height="1.600"/><rect x="1397.4" y="1024.4" width="1.600" height="1.600"/><rect x="1406.1" y="1023.8" width="1.600" height="1.600"/><rect x="1415.5" y="1021.4" width="1.600" height="1.600"/><rect x="1424.8" y="1022.6" width="1.600" height="1.600"/><rect x="1432.4" y="1020.4" width="1.600" height="1.600"/><rect x="1330.6" y="1029.0" width="1.600" height="1.600"/><rect x="1339.2" y="1030.8" width="1.600" height="1.600"/><rect x="1348.1" y="1031.3" width="1.600" height="1.600"/><rect x="1356.2" y="1031.4" width="1.600" height="1.600"/><rect x="1365.3" y="1032.1" width="1.600" height="1.600"/><rect x="1375.6" y="1029.7" width="1.600" height="1.600"/><rect x="1382.4" y="1030.2" width="1.600" height="1.600"/><rect x="1393.9" y="1030.7" width="1.600" height="1.600"/><rect x="1401.9" y="1030.1" width="1.600" height="1.600"/><rect x="1410.5" y="1030.1" width="1.600" height="1.600"/><rect x="1419.1" y="1030.3" width="1.600" height="1.600"/><rect x="1428.8" y="1030.8" width="1.600" height="1.600"/><rect x="1438.0" y="1030.3" width="1.600" height="1.600"/><rect x="1326.1" y="1037.8" width="1.600" height="1.600"/><rect x="1334.5" y="1035.8" width="1.600" height="1.600"/><rect x="1344.1" y="1038.8" width="1.600" height="1.600"/><rect x="1353.2" y="1038.0" width="1.600" height="1.600"/><rect x="1361.6" y="1037.3" width="1.600" height="1.600"/><rect x="1371.0" y="1038.6" width="1.600" height="1.600"/><rect x="1378.4" y="1037.2" width="1.600" height="1.600"/><rect x="1389.1" y="1039.9" width="1.600" height="1.600"/><rect x="1395.8" y="1039.2" width="1.600" height="1.600"/><rect x="1405.7" y="1037.0" width="1.600" height="1.600"/><rect x="1414.4" y="1038.5" width="1.600" height="1.600"/><rect x="1425.1" y="1035.9" width="1.600" height="1.600"/><rect x="1433.3" y="1035.4" width="1.600" height="1.600"/><rect x="1330.2" y="1043.6" width="1.600" height="1.600"/><rect x="1339.6" y="1046.1" width="1.600" height="1.600"/><rect x="1347.5" y="1046.6" width="1.600" height="1.600"/><rect x="1355.9" y="1044.2" width="1.600" height="1.600"/><rect x="1365.8" y="1044.4" width="1.600" height="1.600"/><rect x="1373.6" y="1045.7" width="1.600" height="1.600"/><rect x="1383.8" y="1045.0" width="1.600" height="1.600"/><rect x="1391.1" y="1047.0" width="1.600" height="1.600"/><rect x="1400.9" y="1047.1" width="1.600" height="1.600"/><rect x="1411.7" y="1045.1" width="1.600" height="1.600"/><rect x="1419.4" y="1045.1" width="1.600" height="1.600"/><rect x="1428.9" y="1044.8" width="1.600" height="1.600"/><rect x="1437.7" y="1044.4" width="1.600" height="1.600"/><rect x="1326.3" y="1051.3" width="1.600" height="1.600"/><rect x="1333.8" y="1052.5" width="1.600" height="1.600"/><rect x="1342.2" y="1051.8" width="1.600" height="1.600"/><rect x="1353.4" y="1052.9" width="1.600" height="1.600"/><rect x="1361.1" y="1051.7" width="1.600" height="1.600"/><rect x="1369.7" y="1053.6" width="1.600" height="1.600"/><rect x="1377.6" y="1053.8" width="1.600" height="1.600"/><rect x="1388.4" y="1052.2" width="1.600" height="1.600"/><rect x="1397.4" y="1053.2" width="1.600" height="1.600"/><rect x="1406.5" y="1052.6" width="1.600" height="1.600"/><rect x="1415.6" y="1053.4" width="1.600" height="1.600"/><rect x="1422.6" y="1051.0" width="1.600" height="1.600"/><rect x="1433.5" y="1053.2" width="1.600" height="1.600"/><rect x="1328.8" y="1059.0" width="1.600" height="1.600"/><rect x="1338.8" y="1059.1" width="1.600" height="1.600"/><rect x="1347.1" y="1059.5" width="1.600" height="1.600"/><rect x="1356.1" y="1060.8" width="1.600" height="1.600"/><rect x="1364.9" y="1060.4" width="1.600" height="1.600"/><rect x="1375.3" y="1059.5" width="1.600" height="1.600"/><rect x="1383.7" y="1061.7" width="1.600" height="1.600"/><rect x="1391.9" y="1060.1" width="1.600" height="1.600"/><rect x="1402.4" y="1059.9" width="1.600" height="1.600"/><rect x="1409.6" y="1060.2" width="1.600" height="1.600"/><rect x="1420.1" y="1058.8" width="1.600" height="1.600"/><rect x="1428.0" y="1059.0" width="1.600" height="1.600"/><rect x="1438.5" y="1058.8" width="1.600" height="1.600"/><rect x="1326.1" y="1065.3" width="1.600" height="1.600"/><rect x="1333.5" y="1067.3" width="1.600" height="1.600"/><rect x="1344.2" y="1067.2" width="1.600" height="1.600"/><rect x="1351.2" y="1066.7" width="1.600" height="1.600"/><rect x="1361.1" y="1067.2" width="1.600" height="1.600"/><rect x="1370.9" y="1069.4" width="1.600" height="1.600"/><rect x="1378.1" y="1067.8" width="1.600" height="1.600"/><rect x="1388.9" y="1068.9" width="1.600" height="1.600"/><rect x="1397.9" y="1067.9" width="1.600" height="1.600"/><rect x="1404.9" y="1067.5" width="1.600" height="1.600"/><rect x="1415.9" y="1067.0" width="1.600" height="1.600"/><rect x="1423.5" y="1067.0" width="1.600" height="1.600"/><rect x="1432.8" y="1066.5" width="1.600" height="1.600"/><rect x="1330.8" y="1073.1" width="1.600" height="1.600"/><rect x="1337.0" y="1075.9" width="1.600" height="1.600"/><rect x="1348.6" y="1076.5" width="1.600" height="1.600"/><rect x="1356.3" y="1076.8" width="1.600" height="1.600"/><rect x="1366.8" y="1074.9" width="1.600" height="1.600"/><rect x="1375.2" y="1077.0" width="1.600" height="1.600"/><rect x="1384.0" y="1076.1" width="1.600" height="1.600"/><rect x="1391.9" y="1075.5" width="1.600" height="1.600"/><rect x="1400.7" y="1074.4" width="1.600" height="1.600"/><rect x="1410.8" y="1074.8" width="1.600" height="1.600"/><rect x="1420.4" y="1073.7" width="1.600" height="1.600"/><rect x="1429.7" y="1075.1" width="1.600" height="1.600"/><rect x="1438.8" y="1075.2" width="1.600" height="1.600"/><rect x="1326.2" y="1081.5" width="1.600" height="1.600"/><rect x="1332.5" y="1082.6" width="1.600" height="1.600"/><rect x="1342.0" y="1081.8" width="1.600" height="1.600"/><rect x="1352.5" y="1082.9" width="1.600" height="1.600"/><rect x="1360.7" y="1084.5" width="1.600" height="1.600"/><rect x="1370.3" y="1082.9" width="1.600" height="1.600"/><rect x="1378.3" y="1084.6" width="1.600" height="1.600"/><rect x="1387.9" y="1084.3" width="1.600" height="1.600"/><rect x="1396.6" y="1082.4" width="1.600" height="1.600"/><rect x="1406.1" y="1084.0" width="1.600" height="1.600"/><rect x="1414.0" y="1083.6" width="1.600" height="1.600"/><rect x="1425.3" y="1083.2" width="1.600" height="1.600"/><rect x="1434.0" y="1080.3" width="1.600" height="1.600"/><rect x="1329.9" y="1090.2" width="1.600" height="1.600"/><rect x="1337.1" y="1088.9" width="1.600" height="1.600"/><rect x="1346.8" y="1090.2" width="1.600" height="1.600"/><rect x="1356.3" y="1090.4" width="1.600" height="1.600"/><rect x="1366.3" y="1089.3" width="1.600" height="1.600"/><rect x="1373.2" y="1089.8" width="1.600" height="1.600"/><rect x="1382.4" y="1089.7" width="1.600" height="1.600"/><rect x="1393.9" y="1092.0" width="1.600" height="1.600"/><rect x="1400.3" y="1090.7" width="1.600" height="1.600"/><rect x="1409.9" y="1089.9" width="1.600" height="1.600"/><rect x="1419.1" y="1090.5" width="1.600" height="1.600"/><rect x="1428.8" y="1089.1" width="1.600" height="1.600"/><rect x="1323.9" y="1096.5" width="1.600" height="1.600"/><rect x="1334.6" y="1096.5" width="1.600" height="1.600"/><rect x="1341.7" y="1096.4" width="1.600" height="1.600"/><rect x="1351.6" y="1098.1" width="1.600" height="1.600"/><rect x="1361.8" y="1097.8" width="1.600" height="1.600"/><rect x="1370.9" y="1098.7" width="1.600" height="1.600"/><rect x="1378.8" y="1098.1" width="1.600" height="1.600"/><rect x="1388.0" y="1099.1" width="1.600" height="1.600"/><rect x="1396.8" y="1098.9" width="1.600" height="1.600"/><rect x="1405.9" y="1097.3" width="1.600" height="1.600"/><rect x="1415.1" y="1098.3" width="1.600" height="1.600"/><rect x="1422.7" y="1097.1" width="1.600" height="1.600"/><rect x="1432.8" y="1097.9" width="1.600" height="1.600"/><rect x="1330.8" y="1103.7" width="1.600" height="1.600"/><rect x="1339.7" y="1105.5" width="1.600" height="1.600"/><rect x="1346.8" y="1105.0" width="1.600" height="1.600"/><rect x="1355.4" y="1106.4" width="1.600" height="1.600"/><rect x="1366.0" y="1106.9" width="1.600" height="1.600"/><rect x="1375.4" y="1106.4" width="1.600" height="1.600"/><rect x="1384.2" y="1106.2" width="1.600" height="1.600"/><rect x="1391.3" y="1106.2" width="1.600" height="1.600"/><rect x="1400.0" y="1104.7" width="1.600" height="1.600"/><rect x="1411.3" y="1104.1" width="1.600" height="1.600"/><rect x="1418.3" y="1103.8" width="1.600" height="1.600"/><rect x="1429.6" y="1103.6" width="1.600" height="1.600"/><rect x="1323.9" y="1112.3" width="1.600" height="1.600"/><rect x="1334.5" y="1112.9" width="1.600" height="1.600"/><rect x="1344.4" y="1112.6" width="1.600" height="1.600"/><rect x="1352.9" y="1111.4" width="1.600" height="1.600"/><rect x="1361.8" y="1113.2" width="1.600" height="1.600"/><rect x="1370.6" y="1112.2" width="1.600" height="1.600"/><rect x="1379.7" y="1114.8" width="1.600" height="1.600"/><rect x="1386.7" y="1113.0" width="1.600" height="1.600"/><rect x="1397.2" y="1114.3" width="1.600" height="1.600"/><rect x="1405.2" y="1112.1" width="1.600" height="1.600"/><rect x="1414.2" y="1113.1" width="1.600" height="1.600"/><rect x="1424.8" y="1112.0" width="1.600" height="1.600"/><rect x="1432.6" y="1111.5" width="1.600" height="1.600"/><rect x="1329.1" y="1118.8" width="1.600" height="1.600"/><rect x="1337.2" y="1119.6" width="1.600" height="1.600"/><rect x="1348.9" y="1119.8" width="1.600" height="1.600"/><rect x="1357.2" y="1119.5" width="1.600" height="1.600"/><rect x="1366.1" y="1121.5" width="1.600" height="1.600"/><rect x="1375.0" y="1121.0" width="1.600" height="1.600"/><rect x="1383.5" y="1121.4" width="1.600" height="1.600"/><rect x="1393.7" y="1119.9" width="1.600" height="1.600"/><rect x="1400.3" y="1121.5" width="1.600" height="1.600"/><rect x="1411.7" y="1120.5" width="1.600" height="1.600"/><rect x="1419.3" y="1120.7" width="1.600" height="1.600"/><rect x="1427.6" y="1118.8" width="1.600" height="1.600"/><rect x="1436.6" y="1119.3" width="1.600" height="1.600"/><rect x="1324.4" y="1125.5" width="1.600" height="1.600"/><rect x="1334.6" y="1128.2" width="1.600" height="1.600"/><rect x="1342.4" y="1128.0" width="1.600" height="1.600"/><rect x="1351.7" y="1128.9" width="1.600" height="1.600"/><rect x="1361.3" y="1127.4" width="1.600" height="1.600"/><rect x="1369.2" y="1126.9" width="1.600" height="1.600"/><rect x="1378.9" y="1128.1" width="1.600" height="1.600"/><rect x="1387.0" y="1128.1" width="1.600" height="1.600"/><rect x="1396.5" y="1129.2" width="1.600" height="1.600"/><rect x="1404.9" y="1129.6" width="1.600" height="1.600"/><rect x="1414.9" y="1128.0" width="1.600" height="1.600"/><rect x="1423.9" y="1128.3" width="1.600" height="1.600"/><rect x="1434.0" y="1126.9" width="1.600" height="1.600"/><rect x="1350.7" y="1202.8" width="1.600" height="1.600"/><rect x="1425.8" y="1202.1" width="1.600" height="1.600"/><rect x="1379.9" y="1197.0" width="1.600" height="1.600"/><rect x="1375.3" y="1199.2" width="1.600" height="1.600"/><rect x="1399.6" y="1202.1" width="1.600" height="1.600"/><rect x="1383.2" y="1197.6" width="1.600" height="1.600"/><rect x="1391.7" y="1201.7" width="1.600" height="1.600"/><rect x="1341.3" y="1204.0" width="1.600" height="1.600"/><rect x="1392.8" y="1197.1" width="1.600" height="1.600"/><rect x="1422.6" y="1197.3" width="1.600" height="1.600"/><rect x="1357.8" y="1202.5" width="1.600" height="1.600"/><rect x="1386.5" y="1201.0" width="1.600" height="1.600"/><rect x="1391.9" y="1200.1" width="1.600" height="1.600"/><rect x="1355.7" y="1197.6" width="1.600" height="1.600"/><rect x="1329.4" y="1202.4" width="1.600" height="1.600"/><rect x="1403.5" y="1200.9" width="1.600" height="1.600"/><rect x="1401.9" y="1199.2" width="1.600" height="1.600"/><rect x="1350.7" y="1199.5" width="1.600" height="1.600"/><rect x="1416.2" y="1196.4" width="1.600" height="1.600"/><rect x="1376.5" y="1198.2" width="1.600" height="1.600"/><rect x="1405.0" y="1199.2" width="1.600" height="1.600"/><rect x="1357.9" y="1199.6" width="1.600" height="1.600"/><rect x="1380.5" y="1202.9" width="1.600" height="1.600"/><rect x="1360.1" y="1203.6" width="1.600" height="1.600"/><rect x="1334.1" y="1198.4" width="1.600" height="1.600"/><rect x="1332.8" y="1197.0" width="1.600" height="1.600"/><rect x="1406.1" y="1202.5" width="1.600" height="1.600"/><rect x="1342.0" y="1197.7" width="1.600" height="1.600"/><rect x="1367.0" y="1202.7" width="1.600" height="1.600"/><rect x="1410.1" y="1202.7" width="1.600" height="1.600"/><rect x="1385.9" y="1197.3" width="1.600" height="1.600"/><rect x="1365.0" y="1197.7" width="1.600" height="1.600"/><rect x="1379.0" y="1201.1" width="1.600" height="1.600"/><rect x="1343.8" y="1198.3" width="1.600" height="1.600"/><rect x="1406.4" y="1196.3" width="1.600" height="1.600"/><rect x="1408.7" y="1204.0" width="1.600" height="1.600"/><rect x="1424.5" y="1199.4" width="1.600" height="1.600"/><rect x="1381.7" y="1201.2" width="1.600" height="1.600"/><rect x="1393.6" y="1247.8" width="1.600" height="1.600"/><rect x="1399.6" y="1241.0" width="1.600" height="1.600"/><rect x="1419.2" y="1242.8" width="1.600" height="1.600"/><rect x="1390.0" y="1245.3" width="1.600" height="1.600"/><rect x="1322.3" y="1245.7" width="1.600" height="1.600"/><rect x="1396.8" y="1242.9" width="1.600" height="1.600"/><rect x="1381.2" y="1242.6" width="1.600" height="1.600"/><rect x="1343.9" y="1243.3" width="1.600" height="1.600"/><rect x="1326.2" y="1243.0" width="1.600" height="1.600"/><rect x="1395.0" y="1242.4" width="1.600" height="1.600"/><rect x="1386.0" y="1247.6" width="1.600" height="1.600"/><rect x="1422.8" y="1239.4" width="1.600" height="1.600"/><rect x="1411.5" y="1244.2" width="1.600" height="1.600"/><rect x="1327.7" y="1241.6" width="1.600" height="1.600"/><rect x="1348.4" y="1238.8" width="1.600" height="1.600"/><rect x="1382.9" y="1247.3" width="1.600" height="1.600"/><rect x="1358.5" y="1246.7" width="1.600" height="1.600"/><rect x="1400.5" y="1239.3" width="1.600" height="1.600"/><rect x="1419.0" y="1244.0" width="1.600" height="1.600"/><rect x="1426.7" y="1245.2" width="1.600" height="1.600"/><rect x="1405.6" y="1241.4" width="1.600" height="1.600"/><rect x="1413.2" y="1247.3" width="1.600" height="1.600"/><rect x="1419.3" y="1242.4" width="1.600" height="1.600"/><rect x="1407.5" y="1242.9" width="1.600" height="1.600"/><rect x="1334.3" y="1238.4" width="1.600" height="1.600"/><rect x="1330.8" y="1240.0" width="1.600" height="1.600"/><rect x="1340.2" y="1243.0" width="1.600" height="1.600"/><rect x="1401.0" y="1243.4" width="1.600" height="1.600"/><rect x="1369.7" y="1244.5" width="1.600" height="1.600"/><rect x="1356.4" y="1242.6" width="1.600" height="1.600"/><rect x="1407.6" y="1242.0" width="1.600" height="1.600"/><rect x="1342.4" y="1247.0" width="1.600" height="1.600"/><rect x="1403.3" y="1241.7" width="1.600" height="1.600"/><rect x="1363.9" y="1243.3" width="1.600" height="1.600"/><rect x="1389.4" y="1240.2" width="1.600" height="1.600"/><rect x="1322.3" y="1240.1" width="1.600" height="1.600"/><rect x="1410.5" y="1239.4" width="1.600" height="1.600"/><rect x="1374.0" y="1240.0" width="1.600" height="1.600"/><rect x="1342.5" y="1293.9" width="1.600" height="1.600"/><rect x="1361.6" y="1293.9" width="1.600" height="1.600"/><rect x="1324.7" y="1293.2" width="1.600" height="1.600"/><rect x="1338.5" y="1297.4" width="1.600" height="1.600"/><rect x="1327.9" y="1292.2" width="1.600" height="1.600"/><rect x="1365.9" y="1296.5" width="1.600" height="1.600"/><rect x="1390.9" y="1292.6" width="1.600" height="1.600"/><rect x="1361.5" y="1296.4" width="1.600" height="1.600"/><rect x="1324.6" y="1302.6" width="1.600" height="1.600"/><rect x="1343.5" y="1293.0" width="1.600" height="1.600"/><rect x="1368.5" y="1293.8" width="1.600" height="1.600"/><rect x="1383.0" y="1295.8" width="1.600" height="1.600"/><rect x="1334.1" y="1292.6" width="1.600" height="1.600"/><rect x="1393.3" y="1295.0" width="1.600" height="1.600"/><rect x="1399.2" y="1297.1" width="1.600" height="1.600"/><rect x="1413.4" y="1295.3" width="1.600" height="1.600"/><rect x="1346.5" y="1294.9" width="1.600" height="1.600"/><rect x="1401.8" y="1298.9" width="1.600" height="1.600"/><rect x="1355.8" y="1293.0" width="1.600" height="1.600"/><rect x="1388.9" y="1302.7" width="1.600" height="1.600"/><rect x="1380.0" y="1292.0" width="1.600" height="1.600"/><rect x="1325.0" y="1293.0" width="1.600" height="1.600"/><rect x="1338.7" y="1292.4" width="1.600" height="1.600"/><rect x="1327.3" y="1299.2" width="1.600" height="1.600"/><rect x="1410.2" y="1294.2" width="1.600" height="1.600"/><rect x="1417.4" y="1297.2" width="1.600" height="1.600"/><rect x="1400.8" y="1302.1" width="1.600" height="1.600"/><rect x="1414.1" y="1292.4" width="1.600" height="1.600"/><rect x="1351.9" y="1298.7" width="1.600" height="1.600"/><rect x="1414.8" y="1293.0" width="1.600" height="1.600"/><rect x="1350.8" y="1301.3" width="1.600" height="1.600"/><rect x="1333.2" y="1296.3" width="1.600" height="1.600"/><rect x="1354.7" y="1299.5" width="1.600" height="1.600"/><rect x="1413.0" y="1293.9" width="1.600" height="1.600"/><rect x="1394.5" y="1300.1" width="1.600" height="1.600"/><rect x="1403.9" y="1298.1" width="1.600" height="1.600"/><rect x="1412.5" y="1296.0" width="1.600" height="1.600"/><rect x="1362.6" y="1294.5" width="1.600" height="1.600"/><rect x="1371.1" y="1154.0" width="1.600" height="1.600"/><rect x="1339.0" y="1138.5" width="1.600" height="1.600"/><rect x="1367.4" y="1160.3" width="1.600" height="1.600"/><rect x="1366.8" y="1149.3" width="1.600" height="1.600"/><rect x="1352.7" y="1137.7" width="1.600" height="1.600"/><rect x="1366.8" y="1131.1" width="1.600" height="1.600"/><rect x="1351.4" y="1167.9" width="1.600" height="1.600"/><rect x="1364.7" y="1134.9" width="1.600" height="1.600"/><rect x="1336.9" y="1172.2" width="1.600" height="1.600"/><rect x="1362.5" y="1173.9" width="1.600" height="1.600"/><rect x="1377.0" y="1152.5" width="1.600" height="1.600"/><rect x="1378.5" y="1166.6" width="1.600" height="1.600"/><rect x="1343.0" y="1148.5" width="1.600" height="1.600"/><rect x="1326.5" y="1150.0" width="1.600" height="1.600"/><rect x="1382.2" y="1135.2" width="1.600" height="1.600"/><rect x="1357.8" y="1135.5" width="1.600" height="1.600"/></g>
<g fill="#f1f0b3" stroke="#231f20" stroke-width="0.900"><circle cx="1332.9" cy="1024.7" r="2"/><circle cx="1353.7" cy="1024.5" r="2"/><circle cx="1373.6" cy="1027.3" r="2"/><circle cx="1391.3" cy="1024.4" r="2"/><circle cx="1407.2" cy="1025.9" r="2"/><circle cx="1426.6" cy="1026.0" r="2"/><circle cx="1331.5" cy="1045.5" r="2"/><circle cx="1347.5" cy="1046.3" r="2"/><circle cx="1367.2" cy="1049.7" r="2"/><circle cx="1388.4" cy="1047.5" r="2"/><circle cx="1409.3" cy="1047.2" r="2"/><circle cx="1426.7" cy="1048.1" r="2"/><circle cx="1441.4" cy="1044.6" r="2"/><circle cx="1331.8" cy="1068.2" r="2"/><circle cx="1350.4" cy="1070.4" r="2"/><circle cx="1364.4" cy="1069.6" r="2"/><circle cx="1381.9" cy="1070.4" r="2"/><circle cx="1397.6" cy="1070.7" r="2"/><circle cx="1419.3" cy="1069.1" r="2"/><circle cx="1437.6" cy="1067.0" r="2"/><circle cx="1334.0" cy="1123.3" r="2"/><circle cx="1355.1" cy="1127.6" r="2"/><circle cx="1369.9" cy="1128.1" r="2"/><circle cx="1386.9" cy="1127.6" r="2"/><circle cx="1406.9" cy="1125.2" r="2"/><circle cx="1426.3" cy="1125.8" r="2"/></g>
<path d="M1319 905V1337" stroke="#231f20" stroke-width="5.500"/>
<path d="M1301 909.0H1319M1301 992.0H1319M1301 1073.5H1319M1301 1153.0H1319M1301 1234.0H1319M1301 1313.5H1319" stroke="#231f20" stroke-width="4"/>
<g font-size="27.500" class="e"><text x="1297.500" y="918.5">6</text><text x="1297.500" y="1001.5">5</text><text x="1297.500" y="1083.0">4</text><text x="1297.500" y="1162.5">3</text><text x="1297.500" y="1243.5">2</text><text x="1297.500" y="1323.0">1</text></g>
<path d="M1319 899.700L1329.600 877L1341 899.700L1352 877L1365.600 899.700L1373 879" stroke="#231f20" stroke-width="1.500" fill="none"/>
<path d="M1314.500 1364.700L1329.600 1340L1341 1364.700L1352 1342L1365.600 1364.700L1374 1344" stroke="#231f20" stroke-width="1.500" fill="none"/>
<path d="M1373 1185H1441L1471.500 1204" stroke="#231f20" stroke-width="2.200" fill="none"/>
<text transform="translate(1270.500,1128.500) rotate(-90)" font-size="25.500" class="m b" textLength="257" lengthAdjust="spacingAndGlyphs">Teel Ulaan Chaltsai</text>
</g>
</svg>
</body></html>
